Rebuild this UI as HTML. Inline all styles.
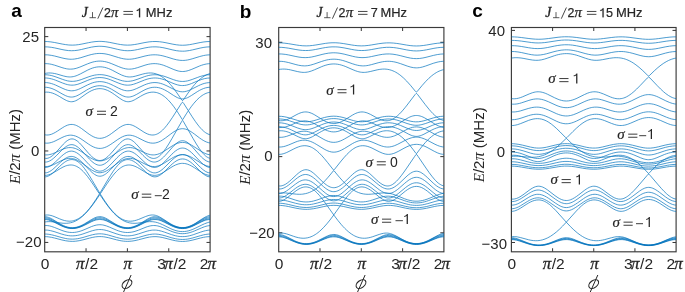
<!DOCTYPE html>
<html><head><meta charset="utf-8"><style>html,body{margin:0;padding:0;background:#fff;width:685px;height:292px;overflow:hidden}svg{display:block;will-change:transform}</style></head>
<body><svg width="685" height="292" viewBox="0 0 685 292">
<rect width="685" height="292" fill="#fff"/>
<rect x="44.70" y="27.50" width="165.40" height="224.30" fill="none" stroke="#3a3a3a" stroke-width="1.15"/>
<line x1="86.05" y1="251.80" x2="86.05" y2="248.20" stroke="#3a3a3a" stroke-width="1.03"/>
<line x1="86.05" y1="27.50" x2="86.05" y2="31.10" stroke="#3a3a3a" stroke-width="1.03"/>
<line x1="127.40" y1="251.80" x2="127.40" y2="248.20" stroke="#3a3a3a" stroke-width="1.03"/>
<line x1="127.40" y1="27.50" x2="127.40" y2="31.10" stroke="#3a3a3a" stroke-width="1.03"/>
<line x1="168.75" y1="251.80" x2="168.75" y2="248.20" stroke="#3a3a3a" stroke-width="1.03"/>
<line x1="168.75" y1="27.50" x2="168.75" y2="31.10" stroke="#3a3a3a" stroke-width="1.03"/>
<line x1="44.70" y1="36.60" x2="48.30" y2="36.60" stroke="#3a3a3a" stroke-width="1.03"/>
<line x1="210.10" y1="36.60" x2="206.50" y2="36.60" stroke="#3a3a3a" stroke-width="1.03"/>
<line x1="44.70" y1="150.95" x2="48.30" y2="150.95" stroke="#3a3a3a" stroke-width="1.03"/>
<line x1="210.10" y1="150.95" x2="206.50" y2="150.95" stroke="#3a3a3a" stroke-width="1.03"/>
<line x1="44.70" y1="242.43" x2="48.30" y2="242.43" stroke="#3a3a3a" stroke-width="1.03"/>
<line x1="210.10" y1="242.43" x2="206.50" y2="242.43" stroke="#3a3a3a" stroke-width="1.03"/>
<rect x="278.70" y="27.50" width="165.20" height="224.30" fill="none" stroke="#3a3a3a" stroke-width="1.15"/>
<line x1="320.00" y1="251.80" x2="320.00" y2="248.20" stroke="#3a3a3a" stroke-width="1.03"/>
<line x1="320.00" y1="27.50" x2="320.00" y2="31.10" stroke="#3a3a3a" stroke-width="1.03"/>
<line x1="361.30" y1="251.80" x2="361.30" y2="248.20" stroke="#3a3a3a" stroke-width="1.03"/>
<line x1="361.30" y1="27.50" x2="361.30" y2="31.10" stroke="#3a3a3a" stroke-width="1.03"/>
<line x1="402.60" y1="251.80" x2="402.60" y2="248.20" stroke="#3a3a3a" stroke-width="1.03"/>
<line x1="402.60" y1="27.50" x2="402.60" y2="31.10" stroke="#3a3a3a" stroke-width="1.03"/>
<line x1="278.70" y1="42.30" x2="282.30" y2="42.30" stroke="#3a3a3a" stroke-width="1.03"/>
<line x1="443.90" y1="42.30" x2="440.30" y2="42.30" stroke="#3a3a3a" stroke-width="1.03"/>
<line x1="278.70" y1="156.60" x2="282.30" y2="156.60" stroke="#3a3a3a" stroke-width="1.03"/>
<line x1="443.90" y1="156.60" x2="440.30" y2="156.60" stroke="#3a3a3a" stroke-width="1.03"/>
<line x1="278.70" y1="232.80" x2="282.30" y2="232.80" stroke="#3a3a3a" stroke-width="1.03"/>
<line x1="443.90" y1="232.80" x2="440.30" y2="232.80" stroke="#3a3a3a" stroke-width="1.03"/>
<rect x="511.40" y="27.50" width="164.70" height="224.30" fill="none" stroke="#3a3a3a" stroke-width="1.15"/>
<line x1="552.58" y1="251.80" x2="552.58" y2="248.20" stroke="#3a3a3a" stroke-width="1.03"/>
<line x1="552.58" y1="27.50" x2="552.58" y2="31.10" stroke="#3a3a3a" stroke-width="1.03"/>
<line x1="593.75" y1="251.80" x2="593.75" y2="248.20" stroke="#3a3a3a" stroke-width="1.03"/>
<line x1="593.75" y1="27.50" x2="593.75" y2="31.10" stroke="#3a3a3a" stroke-width="1.03"/>
<line x1="634.92" y1="251.80" x2="634.92" y2="248.20" stroke="#3a3a3a" stroke-width="1.03"/>
<line x1="634.92" y1="27.50" x2="634.92" y2="31.10" stroke="#3a3a3a" stroke-width="1.03"/>
<line x1="511.40" y1="30.40" x2="515.00" y2="30.40" stroke="#3a3a3a" stroke-width="1.03"/>
<line x1="676.10" y1="30.40" x2="672.50" y2="30.40" stroke="#3a3a3a" stroke-width="1.03"/>
<line x1="511.40" y1="151.60" x2="515.00" y2="151.60" stroke="#3a3a3a" stroke-width="1.03"/>
<line x1="676.10" y1="151.60" x2="672.50" y2="151.60" stroke="#3a3a3a" stroke-width="1.03"/>
<line x1="511.40" y1="242.50" x2="515.00" y2="242.50" stroke="#3a3a3a" stroke-width="1.03"/>
<line x1="676.10" y1="242.50" x2="672.50" y2="242.50" stroke="#3a3a3a" stroke-width="1.03"/>
<clipPath id="c0"><rect x="44.70" y="27.50" width="165.40" height="224.30"/></clipPath>
<path clip-path="url(#c0)" fill="none" stroke="#0072BD" stroke-width="0.7" stroke-linejoin="round" d="M44.70 236.62L46.42 236.67 48.15 236.81 51.59 237.35 54.69 238.06 61.93 239.97 65.72 240.77 69.17 241.23 72.27 241.36 73.99 241.32 75.71 241.19 79.16 240.70 82.95 239.87 89.50 238.12 92.25 237.46 95.35 236.89 98.11 236.62 99.83 236.57 101.56 236.62 103.28 236.76 105.00 237.00 108.79 237.78 116.37 239.78 119.82 240.57 121.89 240.93 123.61 241.15 125.68 241.32 127.40 241.36 129.12 241.32 131.19 241.16 132.91 240.94 134.98 240.58 138.43 239.80 146.01 237.81 149.45 237.10 151.18 236.85 152.90 236.69 156.00 236.64 159.10 236.91 162.20 237.46 164.96 238.11 172.20 240.03 175.64 240.78 179.09 241.27 180.81 241.40 182.53 241.44 185.63 241.30 189.08 240.84 192.87 240.03 200.45 238.02 203.55 237.32 205.28 237.01 207.00 236.79 210.10 236.62 M44.70 234.04L46.42 234.08 48.15 234.22 49.87 234.47 51.59 234.80 54.69 235.57 61.93 237.64 65.72 238.51 67.44 238.80 69.17 239.00 72.27 239.15 73.99 239.09 75.71 238.95 77.44 238.72 79.16 238.41 82.95 237.49 89.84 235.45 92.60 234.72 95.35 234.17 98.11 233.86 99.83 233.80 101.56 233.86 103.28 234.02 105.00 234.29 106.72 234.64 108.79 235.16 116.37 237.39 119.82 238.26 121.89 238.67 123.61 238.91 125.68 239.09 127.40 239.15 129.12 239.10 131.19 238.93 132.91 238.69 134.98 238.30 138.43 237.46 146.01 235.30 149.45 234.53 152.55 234.13 154.28 234.05 155.66 234.06 157.03 234.15 158.76 234.35 161.86 234.95 164.96 235.78 171.85 237.83 175.64 238.74 177.36 239.05 179.09 239.28 180.81 239.42 182.53 239.47 185.63 239.32 187.36 239.11 189.08 238.81 192.87 237.92 200.45 235.68 203.55 234.87 205.28 234.52 207.00 234.26 208.72 234.10 210.10 234.04 M44.70 230.08L46.08 230.08 47.46 230.17 48.84 230.34 50.56 230.65 54.00 231.56 61.24 233.95 64.69 234.92 66.75 235.36 68.48 235.63 70.54 235.83 72.27 235.87 73.99 235.81 75.71 235.64 77.44 235.38 79.16 235.01 80.88 234.57 82.95 233.94 89.84 231.52 92.60 230.65 95.70 229.91 97.08 229.70 98.45 229.57 99.83 229.52 101.56 229.59 103.28 229.79 105.00 230.12 106.72 230.55 108.45 231.06 116.03 233.71 119.82 234.84 121.89 235.31 123.61 235.60 125.68 235.81 127.40 235.87 129.12 235.83 131.19 235.63 132.91 235.36 134.98 234.92 138.43 233.95 146.01 231.46 147.73 230.98 149.45 230.58 151.18 230.29 152.55 230.14 153.93 230.08 155.31 230.10 156.69 230.20 158.41 230.45 161.51 231.18 164.27 232.05 171.51 234.62 175.30 235.71 177.36 236.15 179.09 236.41 180.81 236.57 182.53 236.62 184.26 236.57 185.98 236.41 187.70 236.15 189.42 235.79 191.15 235.35 193.22 234.73 200.80 232.05 203.90 231.08 205.62 230.66 207.00 230.39 208.72 230.17 210.10 230.08 M44.70 225.55L46.08 225.52 47.80 225.63 49.52 225.91 51.25 226.35 54.35 227.40 61.93 230.45 64.00 231.15 66.06 231.73 67.79 232.10 69.51 232.35 71.23 232.48 72.61 232.50 74.33 232.40 76.40 232.12 78.12 231.76 80.19 231.19 81.91 230.61 83.98 229.81 91.56 226.56 93.29 225.93 95.01 225.40 96.73 225.01 98.11 224.82 99.83 224.73 101.21 224.78 102.59 224.95 103.97 225.23 106.72 226.04 109.48 227.12 116.37 230.08 118.44 230.85 120.16 231.40 122.23 231.92 123.95 232.24 125.68 232.43 127.40 232.50 129.12 232.44 131.19 232.21 132.91 231.89 134.98 231.36 138.43 230.19 146.01 227.14 147.73 226.55 149.11 226.16 150.83 225.78 152.21 225.60 153.59 225.52 154.97 225.55 156.34 225.70 157.72 225.95 159.10 226.29 160.82 226.84 163.58 227.91 170.82 231.06 172.88 231.85 174.95 232.52 177.02 233.06 178.74 233.38 180.81 233.62 182.53 233.68 184.26 233.62 186.32 233.38 188.05 233.06 190.11 232.52 192.18 231.85 194.25 231.06 201.49 227.91 204.24 226.84 205.96 226.29 207.34 225.95 208.72 225.70 210.10 225.55 M44.70 222.03L46.77 221.73 48.84 221.62 50.90 221.68 53.31 221.90 54.35 222.35 60.90 225.64 62.96 226.55 65.03 227.31 67.10 227.91 69.17 228.32 71.23 228.53 73.30 228.53 75.02 228.37 77.09 227.99 78.81 227.53 80.88 226.82 84.33 225.32 91.56 221.68 93.29 220.93 95.01 220.30 96.73 219.84 98.11 219.60 99.49 219.50 100.87 219.54 102.25 219.71 103.62 220.00 105.00 220.42 106.38 220.93 109.14 222.18 116.03 225.64 118.10 226.55 119.82 227.20 121.89 227.82 123.61 228.21 125.68 228.48 127.40 228.56 129.12 228.48 131.19 228.21 132.91 227.82 134.98 227.20 136.70 226.55 138.77 225.64 145.32 222.35 146.35 221.90 149.45 221.64 152.21 221.68 153.93 221.86 155.66 222.17 157.38 222.62 159.45 223.33 162.55 224.67 170.82 228.72 172.88 229.59 174.95 230.33 177.02 230.92 178.74 231.28 180.81 231.54 182.53 231.60 184.60 231.51 186.67 231.22 188.74 230.74 190.80 230.10 192.87 229.31 194.94 228.40 201.83 225.00 204.59 223.75 207.34 222.73 208.72 222.34 210.10 222.03 M44.70 219.51L46.42 219.61 48.49 220.01 50.90 220.80 53.31 221.85 55.04 222.19 58.83 224.23 61.24 225.45 63.65 226.51 65.72 227.25 67.44 227.73 69.17 228.07 70.89 228.27 72.27 228.32 73.99 228.24 76.06 227.95 77.78 227.56 79.85 226.90 81.57 226.23 83.64 225.28 90.87 221.45 93.29 220.30 94.66 219.76 96.04 219.31 97.42 218.99 98.45 218.84 99.83 218.76 101.21 218.84 102.59 219.06 104.31 219.52 106.04 220.16 107.76 220.94 115.34 224.94 117.41 225.93 119.13 226.65 121.20 227.36 123.26 227.89 125.33 228.21 127.06 228.31 128.43 228.29 130.16 228.13 131.88 227.81 133.60 227.36 135.67 226.65 138.08 225.61 140.49 224.41 144.63 222.19 146.35 221.85 149.11 220.67 151.52 219.93 152.90 219.66 153.93 219.55 156.00 219.55 157.38 219.72 158.76 220.02 160.14 220.43 161.51 220.95 164.27 222.19 171.16 225.65 173.23 226.55 174.95 227.20 177.02 227.83 178.74 228.21 180.81 228.49 182.53 228.56 184.26 228.49 185.98 228.27 187.70 227.92 189.77 227.32 191.84 226.55 193.90 225.65 201.14 222.02 203.90 220.81 205.62 220.21 207.00 219.85 208.72 219.58 210.10 219.51 M44.70 218.81L46.08 218.88 47.46 219.09 48.84 219.44 50.21 219.91 52.28 220.79 54.69 222.00 55.04 222.14 56.42 222.35 56.76 222.47 59.52 224.05 61.58 225.14 63.65 226.09 65.72 226.87 67.44 227.38 69.17 227.73 70.89 227.94 72.27 227.99 73.99 227.91 76.06 227.61 78.12 227.09 80.19 226.37 82.26 225.47 84.33 224.42 90.87 220.66 93.29 219.40 94.66 218.80 96.04 218.30 97.42 217.94 98.45 217.78 99.83 217.69 101.21 217.78 102.59 218.02 104.31 218.53 105.69 219.09 107.41 219.92 114.99 224.24 117.06 225.30 118.79 226.09 120.85 226.87 122.92 227.46 124.99 227.83 127.06 227.99 128.43 227.96 130.16 227.79 131.88 227.46 133.60 226.98 135.67 226.23 137.74 225.31 140.15 224.05 142.91 222.47 143.25 222.35 144.63 222.14 144.97 222.00 147.39 220.79 149.45 219.91 151.18 219.34 152.55 219.03 154.28 218.83 155.66 218.83 157.03 218.98 158.41 219.28 159.79 219.69 161.17 220.22 163.93 221.51 171.16 225.32 173.23 226.26 174.95 226.93 177.02 227.58 178.74 227.98 180.81 228.26 182.53 228.34 184.26 228.26 185.98 228.04 187.70 227.67 189.77 227.05 191.84 226.26 193.90 225.32 201.14 221.51 204.24 220.08 205.96 219.47 207.34 219.11 208.72 218.89 210.10 218.81 M44.70 217.78L46.08 217.85 47.46 218.08 48.84 218.46 50.21 218.98 52.97 220.31 56.42 222.27 56.76 222.40 57.79 222.56 58.14 222.72 60.21 223.95 61.93 224.88 63.65 225.70 65.38 226.40 67.10 226.96 68.82 227.36 70.54 227.61 72.27 227.69 73.99 227.61 76.06 227.30 78.12 226.75 80.19 226.00 82.26 225.05 84.33 223.94 91.22 219.71 93.63 218.36 95.01 217.72 96.04 217.32 97.42 216.92 98.45 216.73 99.83 216.64 101.21 216.73 102.59 217.00 103.97 217.44 105.35 218.03 107.07 218.91 114.99 223.75 117.06 224.88 118.79 225.70 120.85 226.52 122.92 227.14 124.99 227.53 127.06 227.69 128.78 227.64 130.50 227.43 132.22 227.05 133.95 226.52 135.67 225.85 137.39 225.05 139.46 223.95 141.53 222.72 141.87 222.56 142.91 222.40 143.25 222.27 147.04 220.12 148.42 219.44 149.80 218.84 151.52 218.26 152.90 217.95 154.28 217.79 155.66 217.81 157.03 217.98 158.41 218.31 159.79 218.78 161.17 219.36 163.58 220.59 170.82 224.69 172.88 225.70 174.95 226.57 177.02 227.25 178.74 227.66 180.81 227.96 182.53 228.04 184.26 227.96 186.32 227.66 188.05 227.25 190.11 226.57 192.18 225.70 194.25 224.69 201.49 220.59 204.24 219.21 205.96 218.53 207.34 218.13 208.72 217.87 210.10 217.78 M44.70 216.71L45.73 216.75 47.11 216.97 48.49 217.36 49.87 217.90 51.25 218.56 52.63 219.32 57.79 222.51 58.14 222.62 60.90 223.01 62.96 223.22 65.03 223.31 66.75 223.28 68.82 223.08 70.54 222.77 72.27 222.32 73.99 221.71 75.71 220.94 77.09 220.21 78.47 219.37 79.85 218.42 81.23 217.37 82.60 216.22 83.98 214.96 85.71 213.25 88.81 209.79 91.91 205.91 95.35 201.18 99.49 195.12 99.83 194.77 100.18 195.12 105.35 202.64 108.79 207.25 110.52 209.38 112.24 211.38 113.96 213.25 115.68 214.96 117.41 216.51 119.13 217.91 120.85 219.14 122.58 220.21 124.30 221.11 126.02 221.84 127.74 222.42 129.47 222.85 130.85 223.08 132.22 223.24 134.98 223.31 137.74 223.13 141.53 222.62 141.87 222.51 147.39 219.12 148.76 218.38 150.14 217.75 151.52 217.24 152.90 216.90 154.28 216.72 155.66 216.74 156.69 216.87 158.07 217.20 159.45 217.69 160.82 218.31 163.24 219.63 170.47 224.05 172.88 225.32 174.95 226.22 177.36 227.04 179.43 227.50 181.84 227.75 183.91 227.71 185.63 227.50 187.36 227.13 189.08 226.61 190.80 225.94 192.53 225.15 194.59 224.05 201.83 219.63 204.59 218.15 205.96 217.56 207.34 217.10 208.72 216.81 210.10 216.71 M44.70 215.22L46.08 215.02 47.80 214.98 49.18 215.11 50.90 215.47 52.28 215.87 54.00 216.49 59.52 218.82 61.93 219.75 64.34 220.50 66.75 220.99 69.17 221.19 71.23 221.10 72.61 220.89 73.64 220.65 75.71 219.98 77.09 219.37 78.47 218.64 79.85 217.78 81.23 216.80 82.60 215.70 83.98 214.48 86.74 211.69 89.50 208.46 92.25 204.83 95.70 199.81 99.14 194.36 99.49 193.99 99.83 194.35 100.18 193.99 100.52 194.36 104.66 200.85 108.10 205.77 109.83 208.02 111.55 210.12 113.27 212.06 114.99 213.82 116.72 215.41 118.10 216.54 119.82 217.78 121.20 218.64 122.58 219.37 123.95 219.98 125.33 220.46 127.06 220.89 128.78 221.13 130.50 221.19 132.22 221.08 134.29 220.74 136.36 220.20 138.43 219.50 145.32 216.63 148.07 215.66 149.80 215.23 151.18 215.03 152.55 214.97 153.93 215.05 155.31 215.29 156.69 215.69 158.07 216.21 159.79 217.04 162.55 218.66 167.72 222.07 170.13 223.58 172.54 224.92 174.61 225.88 177.02 226.76 179.43 227.34 181.84 227.60 183.91 227.56 185.63 227.34 187.70 226.86 189.42 226.29 191.49 225.42 193.56 224.37 195.63 223.16 202.17 218.88 204.93 217.23 206.31 216.53 207.69 215.93 209.07 215.47 210.10 215.22 M44.70 176.87L45.73 176.80 46.77 176.60 47.80 176.25 48.84 175.77 50.56 174.72 52.63 173.18 55.04 171.81 60.21 168.62 62.96 167.10 65.38 166.03 66.75 165.57 67.79 165.31 69.85 165.00 71.23 164.98 72.27 165.06 73.30 165.23 74.33 165.50 75.71 165.99 76.75 166.47 78.12 167.24 79.50 168.18 80.54 168.99 81.91 170.20 83.29 171.55 84.67 173.03 87.43 176.37 90.19 180.09 93.63 185.11 99.14 193.49 99.49 193.79 99.83 193.24 100.18 193.79 100.52 193.49 106.72 184.08 110.17 179.13 113.27 175.07 114.99 173.03 116.37 171.55 117.75 170.20 119.13 168.99 120.51 167.93 121.89 167.03 123.26 166.30 124.30 165.85 125.68 165.40 127.06 165.11 128.78 164.97 129.81 165.00 130.85 165.11 132.91 165.57 134.98 166.31 137.39 167.45 139.80 168.82 144.63 171.81 147.04 173.18 149.11 174.72 150.83 175.77 151.87 176.25 152.90 176.60 153.93 176.80 154.97 176.87 156.00 176.78 157.03 176.55 158.07 176.18 159.45 175.49 160.48 174.84 161.51 174.09 163.58 172.34 170.13 168.03 173.23 166.15 175.64 164.94 178.05 164.04 180.12 163.55 181.50 163.39 182.53 163.35 184.60 163.50 185.98 163.76 187.70 164.26 189.42 164.94 191.15 165.78 194.25 167.59 201.49 172.34 203.55 174.09 204.59 174.84 205.62 175.49 207.00 176.18 208.03 176.55 209.07 176.78 210.10 176.87 M44.70 175.37L46.42 175.30 48.15 174.98 50.21 174.30 52.28 173.36 52.97 172.82 54.35 171.57 59.52 166.55 61.93 164.34 64.34 162.42 65.72 161.51 66.75 160.92 67.79 160.43 68.82 160.05 69.85 159.77 70.89 159.61 71.92 159.57 72.96 159.65 74.68 160.04 75.71 160.45 77.09 161.17 78.12 161.85 79.50 162.95 80.54 163.90 81.91 165.33 84.33 168.27 86.74 171.65 89.50 175.91 92.25 180.45 99.83 193.22 107.76 179.87 110.52 175.36 113.27 171.14 114.65 169.19 116.03 167.38 117.41 165.72 118.79 164.24 120.16 162.95 121.20 162.11 122.58 161.17 123.95 160.45 125.33 159.94 126.37 159.70 127.06 159.61 128.09 159.57 129.81 159.77 131.53 160.29 133.26 161.11 135.33 162.42 137.74 164.34 140.15 166.55 145.32 171.57 146.70 172.82 147.39 173.36 149.45 174.30 151.18 174.89 152.90 175.25 154.62 175.38 155.66 175.33 156.69 175.20 157.72 174.97 158.76 174.67 159.79 174.28 161.17 173.66 163.58 172.33 165.30 170.72 170.13 165.94 172.20 164.02 174.61 162.05 175.99 161.11 177.02 160.49 178.05 159.97 179.09 159.56 180.81 159.09 182.53 158.94 184.26 159.09 185.63 159.44 187.36 160.14 189.08 161.11 190.80 162.31 192.53 163.72 194.25 165.28 199.76 170.72 201.49 172.33 203.90 173.66 205.96 174.55 208.03 175.13 209.07 175.30 210.10 175.37 M44.70 172.89L46.08 172.82 46.77 172.69 47.80 172.39 49.52 171.61 51.25 170.52 52.63 169.48 54.00 168.31 60.55 162.17 63.31 159.83 65.03 159.19 66.75 158.72 68.48 158.43 70.20 158.34 71.58 158.42 72.61 158.57 73.64 158.80 75.02 159.22 76.06 159.61 77.44 160.25 79.85 161.61 81.91 162.98 84.67 165.00 90.19 170.69 91.91 172.30 93.29 173.45 94.66 174.44 96.04 175.24 97.42 175.82 98.45 176.09 99.83 176.22 101.21 176.09 102.59 175.70 104.31 174.87 105.35 174.21 106.38 173.45 108.45 171.68 110.52 169.66 114.99 165.00 118.44 162.51 121.20 160.80 122.58 160.08 123.95 159.47 125.33 158.99 126.37 158.71 127.74 158.46 128.78 158.37 130.50 158.37 132.57 158.65 134.64 159.19 136.36 159.83 139.12 162.17 145.66 168.31 147.39 169.75 148.76 170.76 150.49 171.79 152.21 172.50 153.24 172.76 153.93 172.86 154.97 172.89 155.66 172.84 157.03 172.54 158.76 171.84 160.14 171.05 161.86 169.80 163.24 168.64 164.96 167.04 170.13 161.86 172.20 159.89 174.26 158.12 175.99 156.86 177.71 155.84 179.43 155.11 180.47 154.84 182.53 154.69 184.60 154.84 185.63 155.11 187.36 155.84 189.08 156.86 190.80 158.12 192.87 159.89 194.94 161.86 200.45 167.37 202.17 168.94 203.55 170.07 205.28 171.26 207.00 172.16 208.03 172.54 208.72 172.72 210.10 172.89 M44.70 167.45L46.08 167.42 46.77 167.32 47.80 167.05 49.18 166.50 50.56 165.78 51.94 165.29 53.31 164.71 55.38 163.73 60.55 161.06 63.31 159.82 65.72 158.18 66.75 157.62 67.79 157.16 69.17 156.71 70.20 156.51 71.23 156.43 72.27 156.47 73.64 156.72 75.02 157.18 76.40 157.85 77.78 158.71 79.16 159.73 80.88 161.21 85.02 165.26 89.50 168.57 91.22 169.72 92.60 170.54 94.66 171.57 96.73 172.30 97.77 172.54 98.80 172.68 99.83 172.73 100.87 172.68 102.59 172.39 104.31 171.85 106.38 170.92 108.45 169.72 110.86 168.08 114.65 165.26 118.44 161.52 119.82 160.30 121.20 159.20 122.58 158.26 123.95 157.49 125.33 156.92 126.37 156.64 127.74 156.44 129.12 156.47 130.50 156.71 131.88 157.16 132.91 157.62 133.95 158.18 136.36 159.82 139.12 161.06 146.01 164.56 147.73 165.29 149.11 165.78 150.49 166.50 151.52 166.93 152.55 167.24 153.24 167.37 154.62 167.47 155.66 167.38 156.69 167.15 157.72 166.80 158.76 166.33 159.79 165.73 161.51 164.56 163.24 163.64 164.96 162.62 171.51 158.45 173.57 157.27 175.30 156.42 177.02 155.71 178.74 155.18 181.15 154.69 182.53 154.58 183.91 154.69 186.32 155.18 188.05 155.71 190.11 156.58 191.84 157.46 193.56 158.45 200.11 162.62 201.83 163.64 203.55 164.56 205.96 166.14 207.00 166.66 208.03 167.05 209.07 167.32 210.10 167.45 M44.70 166.53L46.08 166.57 47.46 166.47 49.18 166.16 50.56 165.76 52.28 164.58 54.00 163.19 55.73 161.64 61.58 156.11 63.31 154.65 64.69 153.62 66.41 152.53 68.13 151.73 69.85 151.25 71.23 151.11 71.92 151.13 72.96 151.26 74.68 151.77 76.40 152.60 78.12 153.73 79.85 155.12 81.91 157.04 83.98 159.16 89.15 164.68 90.87 166.38 92.25 167.62 93.98 168.97 95.35 169.85 97.08 170.66 98.45 171.04 99.49 171.16 100.18 171.16 100.87 171.09 101.90 170.88 102.59 170.66 103.62 170.22 105.35 169.21 107.07 167.91 109.14 166.05 111.20 163.96 117.06 157.73 118.79 156.05 120.51 154.54 122.58 153.02 124.30 152.06 126.02 151.42 127.06 151.21 127.74 151.13 128.43 151.11 129.47 151.19 131.19 151.61 132.91 152.35 134.64 153.38 136.36 154.65 138.08 156.11 143.94 161.64 145.66 163.19 147.39 164.58 149.11 165.76 150.83 166.24 152.55 166.51 154.28 166.57 155.66 166.46 157.03 166.22 158.76 165.73 160.48 165.05 161.51 164.52 162.89 163.37 164.61 161.76 171.85 154.23 173.57 152.58 175.30 151.11 177.36 149.66 179.09 148.78 180.12 148.41 180.81 148.23 181.84 148.08 182.53 148.05 183.22 148.08 184.26 148.23 184.95 148.41 185.98 148.78 187.70 149.66 189.77 151.11 191.49 152.58 193.22 154.23 200.45 161.76 202.17 163.37 203.55 164.52 204.93 165.20 206.65 165.84 208.38 166.29 210.10 166.53 M44.70 162.04L45.39 162.07 46.42 162.00 47.11 161.89 48.15 161.60 49.87 160.85 51.59 159.80 53.31 158.48 55.04 156.95 56.76 155.29 61.24 150.74 62.96 149.11 65.03 148.38 66.75 147.93 68.48 147.65 70.20 147.56 71.58 147.64 72.61 147.78 73.99 148.08 75.37 148.50 76.75 149.05 78.12 149.70 80.88 151.28 82.95 152.64 84.67 153.87 89.50 159.15 91.22 160.85 92.94 162.34 94.32 163.35 95.70 164.17 97.08 164.78 98.45 165.15 99.83 165.27 100.52 165.24 101.56 165.08 102.93 164.65 104.66 163.79 106.38 162.61 108.10 161.16 110.86 158.44 114.99 153.87 117.06 152.41 118.79 151.28 120.51 150.26 121.89 149.53 123.26 148.90 124.64 148.39 126.02 147.99 127.40 147.72 128.78 147.58 130.50 147.59 132.57 147.86 134.64 148.38 136.70 149.11 138.43 150.74 142.91 155.29 144.63 156.95 146.35 158.48 148.07 159.80 149.11 160.47 150.14 161.03 151.87 161.71 152.90 161.95 153.59 162.04 154.62 162.06 155.31 162.01 156.00 161.89 157.03 161.60 158.76 160.84 160.48 159.76 162.20 158.38 163.58 157.11 165.30 155.35 172.54 147.15 174.26 145.34 175.64 144.08 177.36 143.36 179.09 142.83 180.81 142.50 182.53 142.39 184.26 142.50 185.98 142.83 187.70 143.36 189.42 144.08 190.80 145.34 192.53 147.15 199.76 155.35 201.49 157.11 202.86 158.38 204.93 160.00 206.65 161.02 208.38 161.71 209.41 161.95 210.10 162.04 M44.70 158.31L45.73 158.43 47.11 158.35 48.15 158.11 49.52 157.56 50.90 156.78 52.63 155.51 54.00 154.30 56.07 152.27 60.55 150.15 62.96 149.10 65.38 147.10 66.75 146.17 67.79 145.61 68.82 145.16 69.85 144.85 70.89 144.68 71.92 144.65 72.96 144.77 74.33 145.15 75.71 145.77 77.09 146.61 78.47 147.65 80.19 149.17 81.91 150.88 84.67 153.84 89.15 156.94 90.87 158.02 92.25 158.79 94.66 159.91 96.04 160.38 97.08 160.64 98.45 160.87 99.49 160.94 100.52 160.92 101.90 160.77 103.62 160.38 105.35 159.77 107.41 158.79 109.48 157.60 111.55 156.25 114.99 153.84 117.75 150.88 119.47 149.17 121.20 147.65 122.58 146.61 123.95 145.77 125.33 145.15 126.71 144.77 128.09 144.65 128.78 144.68 129.81 144.85 130.85 145.16 131.88 145.61 132.91 146.17 134.29 147.10 136.70 149.10 139.12 150.15 143.60 152.27 145.66 154.30 147.04 155.51 148.42 156.55 149.80 157.39 151.18 158.00 152.21 158.29 153.59 158.44 154.62 158.37 155.31 158.23 156.34 157.90 157.38 157.41 158.41 156.76 159.45 155.97 160.82 154.71 162.20 153.23 163.58 151.55 171.85 146.16 173.57 145.14 175.64 144.04 177.02 142.90 178.05 142.18 179.43 141.42 180.47 141.02 181.50 140.77 182.53 140.69 183.57 140.77 184.60 141.02 185.63 141.42 187.01 142.18 188.05 142.90 189.42 144.04 191.49 145.14 193.22 146.16 201.49 151.55 202.86 153.23 204.24 154.71 205.62 155.97 206.65 156.76 207.69 157.41 208.38 157.75 209.41 158.14 210.10 158.31 M44.70 154.83L45.73 154.91 47.11 154.91 48.49 154.78 49.87 154.53 51.25 154.17 52.63 153.72 55.73 152.43 56.07 152.23 56.76 151.49 63.31 144.18 64.69 142.80 66.06 141.56 67.79 140.29 69.17 139.55 70.54 139.07 71.92 138.90 73.30 139.03 74.68 139.47 76.06 140.19 77.78 141.43 79.50 142.99 81.23 144.78 88.46 153.15 90.19 155.00 91.56 156.35 93.29 157.82 95.01 159.02 96.73 159.88 97.77 160.23 98.45 160.39 99.49 160.50 100.18 160.50 101.21 160.39 102.25 160.13 102.93 159.88 103.97 159.41 105.00 158.80 106.04 158.09 108.10 156.35 110.17 154.28 112.24 151.98 117.75 145.54 119.47 143.68 120.85 142.34 122.58 140.89 123.95 139.99 124.99 139.47 125.68 139.22 127.06 138.93 128.43 138.95 129.12 139.07 130.16 139.40 131.53 140.08 133.26 141.28 134.64 142.47 136.36 144.18 142.91 151.49 143.60 152.23 143.94 152.43 145.66 153.18 147.39 153.84 149.11 154.36 150.49 154.67 151.87 154.86 153.24 154.92 154.62 154.86 156.00 154.67 157.72 154.25 159.45 153.64 161.51 152.69 163.58 151.54 165.99 148.23 168.75 143.96 171.85 138.75 176.68 130.25 177.71 129.73 179.43 129.14 181.15 128.79 182.53 128.70 183.91 128.79 185.63 129.14 187.36 129.73 188.39 130.25 193.22 138.75 196.32 143.96 199.07 148.23 201.49 151.54 203.90 152.87 205.96 153.78 208.03 154.44 210.10 154.83 M44.70 143.01L46.42 143.16 48.15 143.11 49.87 142.85 51.59 142.40 53.31 141.79 55.04 141.05 61.93 137.57 64.69 136.37 66.41 135.79 67.79 135.46 69.17 135.24 70.54 135.17 71.92 135.23 73.64 135.52 75.37 136.01 77.09 136.71 78.81 137.59 80.88 138.82 82.95 140.20 88.46 144.06 90.19 145.17 91.91 146.16 93.63 147.01 95.35 147.67 97.08 148.14 98.80 148.39 100.52 148.41 101.56 148.32 102.59 148.14 104.31 147.67 106.38 146.85 108.10 145.97 110.17 144.74 112.24 143.36 117.75 139.50 120.85 137.59 122.58 136.71 124.30 136.01 126.02 135.52 127.74 135.23 129.12 135.17 130.85 135.28 132.57 135.61 134.29 136.12 135.67 136.64 137.39 137.41 142.91 140.22 144.97 141.21 147.04 142.05 148.76 142.60 150.49 142.97 152.21 143.15 153.93 143.13 155.31 142.95 157.03 142.54 158.76 141.93 160.48 141.13 162.20 140.16 165.30 138.10 170.82 133.95 172.88 132.46 174.95 131.13 176.68 130.20 181.50 121.81 182.19 120.67 182.53 120.30 182.88 120.67 183.57 121.81 188.39 130.20 190.11 131.13 192.18 132.46 194.25 133.95 199.76 138.10 201.49 139.29 203.21 140.37 204.93 141.30 206.65 142.07 208.38 142.64 210.10 143.01 M44.70 134.75L46.42 135.01 48.15 134.99 49.87 134.71 51.59 134.19 53.31 133.45 55.38 132.35 57.45 131.07 62.62 127.67 64.34 126.64 65.72 125.93 67.44 125.20 69.17 124.69 70.89 124.44 72.27 124.44 73.64 124.62 75.37 125.09 76.75 125.65 78.47 126.54 79.85 127.38 81.57 128.56 87.08 132.73 89.15 134.22 91.22 135.56 93.29 136.69 95.35 137.56 97.42 138.11 98.45 138.27 99.49 138.34 101.21 138.27 102.93 137.96 104.66 137.43 106.38 136.69 108.10 135.77 109.83 134.69 111.55 133.49 118.79 128.07 120.51 126.95 122.23 125.98 123.95 125.22 125.33 124.78 126.71 124.51 128.09 124.42 129.47 124.51 130.85 124.77 132.22 125.20 133.95 125.93 135.33 126.64 137.05 127.67 143.94 132.15 146.01 133.28 147.73 134.05 149.45 134.62 151.18 134.96 152.90 135.03 154.28 134.89 155.66 134.56 156.69 134.19 157.72 133.71 159.10 132.91 160.14 132.20 161.51 131.08 162.55 130.14 163.93 128.74 165.30 127.20 166.68 125.52 169.44 121.83 172.54 117.27 176.68 110.79 177.02 111.21 178.74 113.84 182.19 119.39 182.53 119.76 182.88 119.39 186.32 113.84 188.05 111.21 188.39 110.79 192.18 116.75 195.28 121.35 198.04 125.08 199.42 126.79 200.80 128.37 202.17 129.80 203.21 130.78 204.59 131.93 205.62 132.69 207.00 133.53 208.03 134.04 209.07 134.45 210.10 134.75 M44.70 92.26L46.42 92.12 48.49 92.21 50.56 92.57 52.63 93.16 54.69 93.98 57.11 95.17 59.17 96.33 64.00 99.21 66.41 100.47 67.79 101.04 69.17 101.45 70.54 101.69 71.58 101.74 72.96 101.61 74.33 101.28 75.71 100.76 77.09 100.07 78.47 99.26 79.85 98.35 85.02 94.63 87.08 93.21 89.15 91.93 91.22 90.82 92.94 90.05 94.66 89.44 96.39 89.00 98.11 88.73 100.18 88.64 101.21 88.70 102.59 88.87 103.62 89.07 105.00 89.44 107.41 90.34 109.83 91.54 112.24 92.99 114.65 94.63 119.82 98.35 122.23 99.88 123.61 100.60 124.99 101.17 126.37 101.55 127.74 101.72 128.78 101.72 130.16 101.53 131.53 101.16 132.91 100.62 134.29 99.96 135.67 99.21 140.49 96.33 142.91 94.99 144.97 93.98 147.04 93.16 149.11 92.57 151.18 92.21 153.24 92.12 154.97 92.26 156.34 92.51 157.72 92.89 159.10 93.40 160.14 93.87 161.51 94.60 162.89 95.47 164.27 96.47 165.65 97.59 167.03 98.84 168.41 100.20 171.16 103.28 173.92 106.79 176.68 110.69 177.02 110.24 181.50 103.21 182.19 102.36 182.53 102.20 182.88 102.36 183.57 103.21 188.05 110.24 188.39 110.69 191.15 106.79 193.90 103.28 196.66 100.20 198.04 98.84 199.42 97.59 200.80 96.47 202.17 95.47 203.55 94.60 204.93 93.87 205.96 93.40 207.34 92.89 208.72 92.51 210.10 92.26 M44.70 87.24L46.42 87.30 48.15 87.53 49.87 87.91 51.94 88.57 54.00 89.42 56.07 90.43 62.96 94.34 65.72 95.72 67.44 96.39 68.82 96.77 70.20 97.01 71.58 97.07 72.61 97.01 73.99 96.77 75.37 96.38 76.75 95.85 78.12 95.20 79.85 94.26 86.74 90.03 88.46 89.05 90.19 88.17 92.25 87.26 93.98 86.65 96.04 86.11 97.77 85.84 99.83 85.72 102.25 85.88 104.66 86.35 107.07 87.13 109.14 88.00 111.55 89.24 113.96 90.65 119.47 94.06 122.23 95.54 123.95 96.26 125.33 96.69 126.71 96.96 128.09 97.07 129.47 97.01 130.85 96.77 132.22 96.39 133.95 95.72 136.70 94.34 141.87 91.37 143.94 90.25 146.01 89.26 148.07 88.44 150.14 87.82 152.21 87.42 154.28 87.25 156.34 87.32 158.41 87.62 160.48 88.16 162.55 88.93 164.61 89.89 167.72 91.64 173.57 95.45 175.99 96.89 177.36 97.60 178.40 98.05 179.78 98.51 180.81 98.74 181.15 99.08 181.84 100.03 182.19 100.41 182.53 100.57 182.88 100.41 183.22 100.03 183.91 99.08 184.26 98.74 185.29 98.51 186.67 98.05 187.70 97.60 189.08 96.89 191.49 95.45 197.69 91.43 199.42 90.44 201.14 89.55 203.55 88.52 205.62 87.87 208.03 87.39 210.10 87.24 M44.70 82.57L46.42 82.62 48.15 82.82 49.87 83.15 51.59 83.60 53.66 84.30 55.73 85.14 62.96 88.52 65.72 89.65 67.44 90.20 68.82 90.52 70.20 90.72 71.58 90.80 72.96 90.75 74.33 90.57 75.71 90.26 77.09 89.85 78.47 89.33 80.19 88.59 87.43 84.97 90.87 83.46 92.60 82.84 94.32 82.34 96.04 81.96 97.77 81.72 99.83 81.62 101.90 81.72 103.97 82.02 106.38 82.62 108.45 83.33 110.86 84.33 113.27 85.48 118.79 88.26 121.54 89.47 123.26 90.07 124.64 90.43 126.37 90.72 127.74 90.80 129.12 90.76 130.85 90.52 132.22 90.20 133.95 89.65 136.70 88.52 144.28 84.99 146.70 84.05 148.76 83.41 150.83 82.93 152.90 82.65 154.97 82.57 157.03 82.70 158.76 82.96 160.48 83.36 162.20 83.88 163.93 84.52 167.03 85.91 174.61 89.75 177.02 93.02 180.81 98.58 181.15 98.80 182.53 98.90 183.91 98.80 184.26 98.58 188.05 93.02 190.46 89.75 198.38 85.74 200.45 84.81 202.17 84.12 204.24 83.45 206.31 82.96 208.38 82.66 210.10 82.57 M44.70 77.97L46.42 78.02 48.15 78.20 49.87 78.49 51.59 78.90 53.31 79.40 55.38 80.12 62.62 83.03 65.72 84.13 67.44 84.60 68.82 84.88 70.54 85.10 71.92 85.16 73.30 85.11 74.68 84.96 76.06 84.71 77.78 84.27 80.88 83.20 87.77 80.31 90.87 79.15 92.60 78.61 94.32 78.18 96.04 77.85 97.77 77.63 99.83 77.54 101.90 77.63 103.97 77.90 106.04 78.34 108.10 78.92 110.52 79.77 118.10 82.93 121.20 84.06 122.92 84.55 124.30 84.85 126.02 85.08 127.40 85.16 128.78 85.13 130.50 84.94 131.88 84.68 133.60 84.23 136.70 83.17 144.63 79.99 147.04 79.19 149.11 78.64 151.18 78.25 153.24 78.02 155.31 77.97 157.38 78.10 159.45 78.41 161.86 78.97 164.27 79.73 166.68 80.65 168.41 82.31 170.47 84.56 172.54 87.03 174.61 89.70 174.95 89.91 176.33 90.49 178.74 91.29 180.81 91.70 182.53 91.81 184.26 91.70 186.32 91.29 188.74 90.49 190.11 89.91 190.46 89.70 192.53 87.03 194.59 84.56 196.66 82.31 198.38 80.65 201.83 79.39 204.59 78.62 207.34 78.14 210.10 77.97 M44.70 74.73L46.08 74.77 47.80 74.91 49.52 75.17 51.25 75.53 52.97 75.97 55.04 76.62 62.62 79.40 65.72 80.40 67.44 80.83 69.17 81.14 70.89 81.33 72.27 81.37 73.64 81.32 75.02 81.17 76.40 80.94 78.12 80.55 81.23 79.59 88.12 77.01 91.22 75.99 92.94 75.52 94.66 75.14 96.39 74.86 97.77 74.71 99.83 74.63 101.90 74.71 103.97 74.96 106.04 75.35 108.10 75.89 110.17 76.53 117.75 79.34 120.85 80.36 122.58 80.80 124.30 81.12 126.02 81.32 127.40 81.37 128.78 81.33 130.50 81.14 132.22 80.83 133.95 80.40 137.05 79.40 144.63 76.62 146.70 75.97 148.76 75.45 150.83 75.05 152.90 74.81 154.97 74.73 157.03 74.82 158.76 75.01 159.10 75.12 159.79 75.48 161.51 76.49 163.24 77.69 164.96 79.06 166.68 80.60 171.85 82.84 174.95 84.07 177.71 84.93 180.12 85.41 181.50 85.54 182.53 85.57 184.60 85.45 186.67 85.10 189.08 84.43 191.49 83.55 198.38 80.60 200.45 78.77 202.17 77.44 204.24 76.07 205.96 75.12 206.31 75.01 207.69 74.85 210.10 74.73 M44.70 73.56L46.42 73.20 48.49 72.98 50.21 72.97 52.28 73.13 54.35 73.46 56.42 73.92 63.31 75.91 66.06 76.57 67.79 76.83 69.17 76.94 70.54 76.95 71.92 76.84 73.30 76.61 74.68 76.27 76.06 75.83 77.78 75.15 80.54 73.83 87.77 70.04 90.19 68.94 92.25 68.15 94.66 67.45 96.73 67.04 98.80 66.84 100.87 66.84 102.59 66.99 104.66 67.37 106.38 67.82 108.45 68.53 110.17 69.24 112.24 70.21 119.13 73.83 121.54 75.00 124.30 76.06 126.71 76.68 128.09 76.88 129.47 76.96 130.85 76.93 132.57 76.74 133.95 76.50 135.67 76.09 142.22 74.20 145.32 73.46 147.04 73.17 148.76 73.00 150.49 72.96 151.87 73.03 153.59 73.26 154.97 73.56 156.69 74.09 159.10 75.06 161.51 75.54 163.93 76.20 167.03 77.25 173.23 79.58 176.33 80.57 178.05 80.98 179.43 81.23 181.15 81.42 182.53 81.46 183.91 81.42 185.63 81.23 187.36 80.91 189.08 80.47 192.18 79.46 197.69 77.38 200.11 76.53 203.21 75.63 205.96 75.06 208.38 74.09 210.10 73.56 M44.70 63.63L46.08 63.63 47.80 63.74 49.52 63.96 51.25 64.28 54.69 65.19 61.93 67.60 64.69 68.39 66.41 68.76 67.79 68.98 69.17 69.11 70.54 69.14 71.92 69.08 73.64 68.88 75.02 68.61 76.75 68.16 79.85 67.09 87.43 63.91 90.87 62.64 92.94 62.03 94.66 61.62 96.39 61.33 98.11 61.15 100.18 61.09 102.25 61.21 104.31 61.49 106.72 62.03 108.79 62.64 111.20 63.50 118.79 66.68 121.89 67.83 123.61 68.35 125.33 68.75 127.06 69.02 128.43 69.13 129.81 69.14 131.53 69.02 132.91 68.82 134.64 68.47 137.74 67.60 144.97 65.19 147.04 64.61 148.76 64.21 150.49 63.91 152.21 63.71 153.93 63.62 155.66 63.66 157.38 63.81 159.45 64.15 161.17 64.55 163.24 65.17 166.68 66.47 173.92 69.58 177.02 70.66 178.40 71.03 179.78 71.30 181.15 71.46 182.53 71.52 183.91 71.46 185.63 71.24 187.01 70.94 188.74 70.45 191.84 69.30 199.42 66.05 201.49 65.29 203.21 64.74 204.93 64.30 206.65 63.96 208.38 63.73 210.10 63.63 M44.70 54.80L47.80 54.89 51.25 55.33 54.69 56.04 61.93 57.92 65.03 58.62 68.13 59.09 69.85 59.22 71.23 59.25 72.61 59.21 74.33 59.06 77.44 58.54 80.88 57.66 88.12 55.41 91.22 54.56 94.66 53.85 96.39 53.62 98.11 53.47 99.83 53.43 101.90 53.50 103.97 53.70 106.04 54.03 108.10 54.47 110.17 55.01 118.44 57.56 121.54 58.38 123.26 58.74 124.99 59.01 126.71 59.18 128.09 59.24 129.47 59.23 131.19 59.12 132.91 58.91 134.64 58.62 137.74 57.92 144.97 56.04 148.76 55.27 150.49 55.03 152.21 54.87 153.93 54.80 155.66 54.82 157.38 54.93 159.10 55.14 160.82 55.43 162.89 55.87 166.34 56.81 173.23 58.94 176.68 59.81 179.78 60.31 182.53 60.45 183.91 60.42 185.63 60.27 187.36 60.01 189.08 59.66 192.18 58.84 199.76 56.51 203.55 55.56 205.28 55.24 207.00 55.00 210.10 54.80 M44.70 46.83L47.80 46.93 51.25 47.31 54.69 47.92 61.93 49.52 65.03 50.12 68.48 50.58 71.58 50.73 74.68 50.60 78.12 50.16 81.57 49.46 88.46 47.79 91.56 47.12 95.01 46.57 98.11 46.31 99.83 46.27 101.90 46.33 103.97 46.49 106.04 46.76 110.17 47.55 117.75 49.38 120.85 50.03 124.30 50.54 126.02 50.67 127.74 50.73 130.85 50.61 134.29 50.18 137.39 49.59 144.97 47.92 148.76 47.26 150.83 47.01 152.55 46.88 156.00 46.85 159.45 47.11 162.89 47.65 165.99 48.31 172.88 49.97 176.33 50.66 179.43 51.06 182.53 51.20 184.26 51.16 185.98 51.03 189.42 50.54 192.53 49.89 200.11 48.08 203.90 47.35 207.00 46.97 210.10 46.83 M44.70 41.50L47.80 41.60 50.90 41.91 54.69 42.52 62.27 44.05 65.38 44.59 68.82 45.00 72.27 45.13 75.37 45.00 78.47 44.65 81.91 44.05 88.46 42.69 91.56 42.11 95.01 41.63 98.11 41.40 99.83 41.37 101.90 41.41 105.69 41.75 109.83 42.41 117.41 43.98 120.51 44.54 123.95 44.97 127.40 45.13 130.85 45.00 134.29 44.59 137.39 44.05 144.97 42.52 149.11 41.87 152.55 41.56 156.00 41.51 159.45 41.73 162.89 42.19 165.99 42.76 172.88 44.19 176.33 44.78 179.43 45.13 182.53 45.25 185.98 45.10 189.42 44.68 192.53 44.12 200.11 42.56 203.90 41.93 207.00 41.61 210.10 41.50"/>
<clipPath id="c1"><rect x="278.70" y="27.50" width="165.20" height="224.30"/></clipPath>
<path clip-path="url(#c1)" fill="none" stroke="#0072BD" stroke-width="0.7" stroke-linejoin="round" d="M278.70 236.85L279.73 236.88 281.11 237.02 282.49 237.27 283.86 237.61 286.96 238.66 294.19 241.69 297.63 242.94 299.69 243.53 301.41 243.92 303.14 244.19 304.86 244.35 306.92 244.38 308.99 244.23 311.05 243.92 313.12 243.44 315.18 242.83 317.25 242.09 324.82 238.93 327.57 237.92 329.29 237.42 330.67 237.13 332.39 236.90 333.77 236.84 335.14 236.90 336.86 237.13 338.24 237.42 339.96 237.92 342.71 238.93 350.29 242.09 352.70 242.94 354.76 243.53 357.17 244.04 359.24 244.30 361.30 244.39 363.37 244.30 365.09 244.10 366.81 243.78 368.53 243.35 370.25 242.83 373.69 241.55 380.23 238.80 383.33 237.71 384.70 237.35 386.08 237.08 387.46 236.91 388.83 236.85 390.21 236.91 391.93 237.14 393.31 237.44 395.03 237.93 397.78 238.94 405.01 241.97 407.07 242.72 409.14 243.36 411.20 243.85 412.92 244.15 414.65 244.33 416.37 244.39 418.09 244.33 419.81 244.15 421.53 243.85 423.59 243.36 425.66 242.72 427.72 241.97 434.95 238.94 437.70 237.93 439.43 237.44 440.80 237.14 442.52 236.91 443.90 236.85 M278.70 236.27L279.73 236.30 281.11 236.45 282.49 236.71 283.86 237.08 285.24 237.53 286.96 238.19 294.19 241.38 297.63 242.69 299.69 243.30 301.41 243.70 303.14 243.99 304.86 244.15 306.92 244.18 308.99 244.03 311.05 243.70 313.12 243.21 315.18 242.57 317.25 241.80 324.82 238.47 327.92 237.28 329.64 236.77 331.01 236.47 332.39 236.29 333.77 236.23 335.14 236.29 336.52 236.47 337.90 236.77 339.27 237.16 342.03 238.18 348.91 241.23 352.01 242.45 353.73 243.01 355.45 243.48 357.17 243.83 358.89 244.07 361.30 244.19 363.37 244.10 365.43 243.83 367.84 243.30 369.90 242.69 372.31 241.80 379.88 238.48 382.98 237.29 384.70 236.79 386.08 236.50 387.46 236.33 388.83 236.27 390.21 236.34 391.59 236.52 392.96 236.82 394.68 237.33 397.78 238.52 405.01 241.69 407.07 242.47 409.14 243.14 411.20 243.65 412.92 243.96 414.65 244.14 416.37 244.20 418.09 244.14 419.81 243.96 421.53 243.65 423.59 243.14 425.66 242.47 427.72 241.69 434.95 238.52 438.05 237.33 439.77 236.82 441.15 236.52 442.52 236.34 443.90 236.27 M278.70 235.41L280.08 235.47 281.45 235.66 282.83 235.98 284.55 236.53 287.30 237.67 294.88 241.25 296.94 242.08 299.01 242.78 301.07 243.33 302.79 243.65 304.51 243.85 306.23 243.92 307.95 243.85 310.02 243.60 312.08 243.17 314.15 242.57 316.21 241.82 318.28 240.94 324.82 237.81 327.23 236.76 328.60 236.26 329.98 235.85 331.36 235.55 332.39 235.41 333.77 235.34 335.14 235.41 336.52 235.61 338.24 236.04 339.62 236.50 341.34 237.19 349.25 240.94 351.32 241.82 353.04 242.45 355.11 243.08 357.17 243.54 359.24 243.82 361.30 243.92 363.02 243.85 364.74 243.65 366.46 243.33 368.53 242.78 370.59 242.08 372.66 241.25 380.23 237.67 383.33 236.41 385.05 235.89 386.42 235.60 388.14 235.42 389.52 235.43 390.90 235.58 392.27 235.85 393.65 236.24 395.03 236.73 397.44 237.75 404.66 241.17 406.73 242.01 408.79 242.73 410.86 243.30 412.58 243.64 414.65 243.89 416.37 243.95 418.09 243.89 420.15 243.64 421.87 243.30 423.94 242.73 426.00 242.01 428.07 241.17 435.30 237.75 438.05 236.60 439.77 236.04 441.15 235.70 442.52 235.49 443.90 235.41 M278.70 234.52L280.08 234.58 281.45 234.80 282.83 235.16 284.21 235.64 286.96 236.86 294.53 240.71 296.60 241.61 298.66 242.37 300.73 242.97 302.45 243.34 304.51 243.60 306.23 243.67 307.95 243.60 310.02 243.34 312.08 242.89 314.15 242.26 316.21 241.47 318.28 240.55 325.16 237.02 327.57 235.90 329.98 235.03 331.36 234.69 332.39 234.54 333.77 234.46 335.14 234.54 336.52 234.76 337.90 235.13 339.27 235.62 340.99 236.35 348.91 240.38 350.97 241.32 352.70 242.01 355.11 242.79 357.17 243.27 359.24 243.57 361.30 243.67 363.02 243.60 364.74 243.39 366.46 243.06 368.53 242.49 370.59 241.75 373.00 240.71 380.57 236.86 383.33 235.64 385.05 235.06 386.42 234.73 388.14 234.53 389.52 234.54 390.55 234.65 391.93 234.93 393.31 235.34 394.68 235.86 397.09 236.96 404.32 240.64 406.39 241.55 408.45 242.33 410.52 242.95 412.58 243.40 414.65 243.66 416.37 243.73 418.09 243.66 420.15 243.40 421.87 243.04 423.94 242.44 426.00 241.69 428.41 240.64 435.64 236.96 438.39 235.72 439.77 235.22 441.15 234.85 442.52 234.61 443.90 234.52 M278.70 233.28L280.08 233.11 281.80 233.08 283.17 233.19 284.89 233.48 286.27 233.82 287.99 234.34 293.50 236.28 295.91 237.05 298.32 237.67 300.73 238.09 303.14 238.25 305.20 238.17 307.61 237.80 309.68 237.24 311.05 236.74 312.43 236.13 313.81 235.41 315.18 234.60 316.56 233.68 317.94 232.66 319.31 231.55 321.03 230.02 323.79 227.28 326.88 223.82 329.98 220.00 333.77 214.97 337.90 220.44 341.34 224.62 343.06 226.55 344.78 228.35 346.50 230.02 348.22 231.55 349.94 232.93 351.66 234.15 353.38 235.22 354.76 235.96 356.14 236.59 357.86 237.24 359.24 237.64 360.96 238.00 362.68 238.20 364.40 238.25 366.12 238.16 368.18 237.88 370.25 237.43 372.31 236.84 379.20 234.45 381.95 233.64 383.67 233.29 385.05 233.12 386.42 233.07 387.80 233.14 389.18 233.34 390.55 233.67 391.93 234.11 393.65 234.80 396.40 236.14 401.57 238.98 403.98 240.24 406.39 241.35 408.45 242.16 410.86 242.89 413.27 243.37 415.68 243.59 417.74 243.55 419.46 243.37 421.53 242.98 423.25 242.50 425.31 241.78 427.38 240.90 429.44 239.89 435.98 236.33 438.74 234.95 440.11 234.37 441.49 233.87 442.87 233.49 443.90 233.28 M278.70 205.39L280.42 205.42 282.14 205.54 285.58 205.99 288.68 206.59 295.91 208.17 299.69 208.84 302.79 209.19 305.89 209.33 307.61 209.31 309.68 209.19 313.46 208.73 316.56 208.16 323.79 206.56 327.23 205.90 327.57 206.25 333.77 214.95 339.96 206.25 340.31 205.90 343.75 206.56 350.97 208.16 354.07 208.73 357.86 209.19 359.92 209.31 361.64 209.33 365.09 209.17 368.87 208.68 372.31 208.03 379.88 206.37 383.67 205.74 387.11 205.42 388.83 205.39 390.55 205.43 393.31 205.67 396.40 206.14 399.16 206.70 405.70 208.16 409.48 208.85 413.27 209.28 416.71 209.40 419.81 209.26 422.91 208.90 426.69 208.23 434.26 206.55 437.36 205.96 440.80 205.53 443.90 205.39 M278.70 203.24L280.42 203.27 282.14 203.39 285.58 203.87 288.68 204.51 295.91 206.24 299.69 206.96 303.14 207.37 306.23 207.49 307.95 207.45 310.02 207.29 313.81 206.75 317.25 206.03 325.85 203.95 326.19 204.31 327.23 205.77 327.57 205.85 330.67 205.47 333.77 205.34 336.86 205.47 339.96 205.85 340.31 205.77 341.34 204.31 341.68 203.95 350.63 206.11 354.76 206.93 357.17 207.26 359.24 207.43 361.30 207.49 363.37 207.44 366.46 207.16 369.56 206.66 372.66 206.00 379.54 204.36 382.98 203.70 386.42 203.31 389.52 203.25 392.62 203.49 395.72 203.99 398.81 204.68 405.70 206.39 409.48 207.15 412.92 207.60 416.37 207.76 419.46 207.63 422.91 207.21 426.69 206.47 434.26 204.60 437.36 203.93 440.80 203.42 443.90 203.24 M278.70 201.33L279.73 201.28 280.76 201.11 281.80 200.82 283.17 200.26 283.52 200.24 285.24 200.54 287.30 201.00 295.56 203.25 299.01 204.04 301.07 204.39 302.79 204.60 304.51 204.72 306.23 204.76 307.95 204.71 309.68 204.57 311.40 204.35 313.46 203.98 317.25 203.06 323.79 201.14 324.13 201.46 325.85 203.83 326.19 203.87 328.26 203.50 330.32 203.22 332.05 203.08 333.77 203.04 335.49 203.08 337.55 203.26 339.27 203.50 341.34 203.87 341.68 203.83 343.40 201.46 343.75 201.14 350.29 203.06 354.07 203.98 356.14 204.35 357.86 204.57 359.92 204.73 361.64 204.76 363.37 204.70 365.09 204.56 366.81 204.34 368.87 203.97 372.31 203.16 380.23 201.00 382.29 200.54 384.01 200.24 384.36 200.26 385.74 200.82 386.77 201.11 388.49 201.33 389.52 201.30 390.55 201.14 391.59 200.88 392.96 200.36 394.68 200.70 396.75 201.20 405.01 203.62 408.45 204.48 410.52 204.88 412.58 205.17 414.65 205.34 416.37 205.39 418.09 205.34 420.15 205.17 422.22 204.88 424.28 204.48 427.72 203.62 435.98 201.20 438.05 200.70 439.77 200.36 440.80 200.76 441.83 201.07 442.87 201.26 443.90 201.33 M278.70 199.94L280.76 199.97 283.17 200.20 283.52 200.10 284.89 199.34 287.65 197.49 295.22 200.03 299.01 201.08 301.07 201.50 303.14 201.79 305.20 201.94 306.92 201.94 308.30 201.87 310.02 201.69 311.74 201.41 313.46 201.03 316.90 200.05 321.72 198.34 323.79 201.00 324.13 201.04 326.88 200.33 329.29 199.85 329.64 199.83 331.01 200.36 332.05 200.62 333.08 200.77 333.77 200.79 334.80 200.73 335.83 200.55 336.86 200.24 337.90 199.83 338.58 199.91 340.31 200.25 343.40 201.04 343.75 201.00 345.81 198.34 350.97 200.16 353.04 200.77 354.76 201.19 356.83 201.59 358.55 201.81 360.27 201.93 361.99 201.95 363.71 201.86 365.43 201.67 367.15 201.38 369.22 200.92 372.66 199.92 379.88 197.49 382.64 199.34 384.01 200.10 384.36 200.20 386.42 199.99 388.49 199.93 390.55 200.04 392.96 200.35 394.68 199.44 396.75 198.07 397.09 198.01 404.32 200.63 406.39 201.30 408.45 201.88 410.52 202.35 412.58 202.69 414.65 202.88 416.37 202.94 418.09 202.88 420.15 202.69 422.22 202.35 424.28 201.88 426.35 201.30 428.41 200.63 435.64 198.01 435.98 198.07 438.05 199.44 439.77 200.35 441.83 200.07 443.90 199.94 M278.70 198.02L280.08 197.96 281.45 197.70 282.83 197.24 284.21 196.62 287.65 197.45 292.12 193.85 292.47 193.76 296.60 194.20 299.69 194.30 301.41 194.24 302.79 194.11 305.54 193.64 307.61 193.07 309.68 192.32 311.74 191.37 313.81 190.23 314.15 190.25 314.84 190.81 315.87 191.72 317.25 193.07 319.31 195.33 321.72 198.28 322.06 198.22 325.16 197.12 325.51 197.27 327.92 198.92 328.95 199.49 329.64 199.79 331.70 199.55 333.77 199.47 335.83 199.55 337.90 199.79 338.58 199.49 339.62 198.92 342.03 197.27 342.37 197.12 345.47 198.22 345.81 198.28 348.22 195.33 350.29 193.07 351.66 191.72 352.70 190.81 353.38 190.25 353.73 190.23 356.14 191.54 358.55 192.59 360.96 193.38 363.37 193.91 365.77 194.21 368.18 194.30 371.28 194.17 375.07 193.76 375.41 193.85 379.88 197.45 383.33 196.62 384.70 197.24 386.08 197.70 387.46 197.96 388.83 198.02 389.87 197.93 390.90 197.73 391.93 197.41 393.31 196.87 396.75 197.89 397.09 197.82 398.81 196.49 399.16 196.56 404.66 198.80 407.76 199.85 410.86 200.64 412.58 200.93 413.96 201.10 416.02 201.20 418.09 201.15 420.15 200.93 422.56 200.49 424.63 199.96 427.04 199.18 429.79 198.13 433.57 196.56 433.92 196.49 435.64 197.82 435.98 197.89 439.43 196.87 440.80 197.41 441.83 197.73 442.87 197.93 443.90 198.02 M278.70 196.17L280.08 196.14 281.45 196.20 282.83 196.36 284.21 196.60 286.27 195.40 289.02 193.43 289.37 193.36 292.12 193.72 292.47 193.57 294.88 191.66 296.94 190.18 299.01 188.90 300.73 188.05 302.10 187.53 303.48 187.16 304.86 186.96 305.89 186.92 306.92 186.99 307.95 187.15 309.68 187.65 310.71 188.09 311.74 188.63 313.81 189.99 314.15 190.01 315.53 189.12 315.87 189.09 317.94 190.82 323.10 195.33 325.16 197.01 325.51 197.00 327.92 196.29 329.98 195.83 332.05 196.42 333.77 196.58 335.49 196.42 337.55 195.83 339.62 196.29 342.03 197.00 342.37 197.01 344.44 195.33 349.60 190.82 351.66 189.09 352.01 189.12 353.38 190.01 353.73 189.99 355.79 188.63 356.83 188.09 357.86 187.65 358.89 187.32 359.92 187.09 360.96 186.95 361.99 186.92 363.02 186.99 364.40 187.24 365.77 187.64 367.15 188.20 368.87 189.10 370.59 190.18 372.66 191.66 375.07 193.57 375.41 193.72 378.16 193.36 378.51 193.43 381.26 195.40 383.33 196.60 385.74 196.23 388.14 196.14 390.55 196.33 393.31 196.84 396.06 195.29 398.81 196.41 399.16 196.21 405.35 191.15 407.42 189.66 409.14 188.58 411.20 187.54 412.92 186.91 414.65 186.53 416.37 186.40 418.09 186.53 419.81 186.91 421.53 187.54 423.59 188.58 425.31 189.66 427.38 191.15 433.57 196.21 433.92 196.41 436.67 195.29 439.43 196.84 441.83 196.38 443.90 196.17 M278.70 193.49L279.73 193.49 280.76 193.38 282.83 192.89 285.58 192.98 289.02 193.32 289.37 193.16 293.50 189.88 295.56 188.32 297.28 187.14 299.01 186.12 300.73 185.30 302.45 184.71 304.17 184.37 305.89 184.32 306.92 184.42 307.95 184.63 308.99 184.93 310.36 185.49 311.40 186.01 312.77 186.83 314.15 187.78 315.53 188.82 315.87 188.88 318.28 187.06 318.62 187.19 322.75 190.88 325.51 193.13 326.88 194.11 327.92 194.76 328.95 195.32 329.98 195.79 332.05 195.55 333.77 195.48 335.49 195.55 337.55 195.79 338.58 195.32 339.62 194.76 340.65 194.11 342.03 193.13 344.78 190.88 348.91 187.19 349.25 187.06 351.66 188.88 352.01 188.82 353.38 187.78 354.76 186.83 356.14 186.01 357.51 185.34 358.89 184.82 359.92 184.55 361.30 184.34 362.33 184.31 363.71 184.42 365.43 184.80 367.15 185.44 368.87 186.31 370.25 187.14 371.97 188.32 374.03 189.88 378.16 193.16 378.51 193.32 381.95 192.98 384.70 192.89 386.42 193.31 387.46 193.46 388.49 193.50 389.87 193.42 392.27 194.00 395.72 195.16 396.06 195.21 398.81 193.15 405.35 187.72 407.07 186.43 408.79 185.27 410.86 184.13 412.58 183.42 413.61 183.12 414.65 182.90 416.37 182.77 418.09 182.90 419.12 183.12 420.15 183.42 421.87 184.13 423.94 185.27 425.66 186.43 427.38 187.72 433.92 193.15 436.67 195.21 437.02 195.16 439.77 194.21 441.83 193.64 442.87 193.42 443.90 193.49 M278.70 193.23L280.42 193.01 282.49 192.90 282.83 192.83 283.86 192.41 284.89 191.90 286.62 190.88 288.34 189.69 295.22 184.30 297.97 182.38 299.69 181.40 301.07 180.76 302.45 180.29 303.82 179.99 305.54 179.88 306.92 180.01 308.64 180.42 310.36 181.12 312.08 182.06 313.81 183.22 315.87 184.82 318.28 186.89 318.62 186.78 321.03 184.68 321.38 184.74 323.44 186.58 325.16 187.99 326.88 189.23 328.26 190.07 329.64 190.76 331.01 191.26 332.39 191.57 333.77 191.67 335.14 191.57 336.52 191.26 337.90 190.76 339.27 190.07 340.65 189.23 342.37 187.99 344.09 186.58 346.16 184.74 346.50 184.68 348.91 186.78 349.25 186.89 351.66 184.82 353.38 183.47 355.11 182.28 356.48 181.47 358.20 180.67 359.58 180.22 360.96 179.96 362.33 179.88 363.71 179.99 365.43 180.39 367.15 181.06 368.87 181.96 370.25 182.83 371.97 184.04 377.82 188.65 379.54 189.94 381.61 191.31 383.33 192.25 384.70 192.83 385.05 192.90 387.11 193.01 389.87 193.38 391.24 193.06 392.96 192.40 394.34 191.68 396.06 190.58 397.44 189.57 399.16 188.17 404.32 183.64 406.39 181.91 408.11 180.59 409.83 179.44 411.55 178.50 413.27 177.82 414.99 177.42 416.37 177.32 417.74 177.42 419.46 177.82 420.84 178.34 422.56 179.23 424.28 180.34 426.00 181.63 428.07 183.35 433.92 188.46 435.64 189.83 437.36 191.04 439.43 192.23 441.15 192.95 442.87 193.38 443.90 193.23 M278.70 188.98L280.08 188.98 281.80 188.71 283.17 188.28 284.89 187.49 286.62 186.48 288.68 185.01 290.75 183.36 295.91 179.01 297.63 177.69 299.01 176.75 300.73 175.77 302.45 175.04 304.17 174.60 305.54 174.49 306.92 174.60 308.64 175.03 310.36 175.76 312.08 176.76 313.81 177.99 315.53 179.39 321.03 184.42 321.38 184.36 323.10 182.70 323.44 182.52 324.82 183.69 326.19 184.76 327.57 185.69 328.95 186.46 330.32 187.06 331.36 187.39 332.73 187.65 333.77 187.71 334.80 187.65 336.18 187.39 337.21 187.06 338.58 186.46 339.96 185.69 341.34 184.76 342.71 183.69 344.09 182.52 344.44 182.70 346.16 184.36 346.50 184.42 350.29 180.91 352.70 178.81 354.76 177.23 356.48 176.13 358.20 175.28 359.92 174.73 361.64 174.50 362.33 174.50 363.37 174.60 364.74 174.92 366.12 175.44 367.50 176.13 368.87 176.98 371.62 179.01 376.79 183.36 378.85 185.01 380.57 186.25 382.29 187.31 383.33 187.84 384.36 188.28 386.08 188.79 387.80 189.00 389.52 188.91 391.24 188.51 392.96 187.82 394.68 186.87 396.40 185.68 398.13 184.31 399.85 182.79 407.07 175.96 408.79 174.51 410.52 173.26 412.24 172.26 413.61 171.68 414.99 171.32 416.37 171.20 417.74 171.32 419.12 171.68 420.50 172.26 421.87 173.04 423.59 174.25 425.31 175.66 427.38 177.53 433.23 183.10 434.95 184.60 436.67 185.94 438.74 187.28 440.46 188.13 442.18 188.71 443.90 188.98 M278.70 185.88L279.39 185.96 280.42 185.97 281.11 185.91 282.14 185.71 283.86 185.11 285.58 184.21 287.30 183.05 289.37 181.40 291.43 179.56 296.60 174.71 298.32 173.23 299.69 172.17 301.41 171.06 302.79 170.38 303.82 170.02 304.51 169.85 305.89 169.71 307.27 169.82 307.95 169.97 308.99 170.31 310.36 170.96 312.08 172.06 313.46 173.11 315.18 174.60 322.06 181.26 323.10 182.21 323.44 182.35 325.51 180.18 327.57 177.87 329.98 175.04 333.42 170.82 333.77 170.52 334.11 170.82 337.55 175.04 339.96 177.87 342.03 180.18 344.09 182.35 344.44 182.21 345.47 181.26 350.63 176.22 352.70 174.29 354.42 172.84 356.14 171.59 357.86 170.61 358.89 170.18 359.58 169.97 360.61 169.77 361.30 169.71 361.99 169.72 363.02 169.85 364.05 170.12 365.43 170.69 366.81 171.47 368.18 172.42 369.56 173.51 370.94 174.71 376.10 179.56 378.16 181.40 380.23 183.05 381.95 184.21 382.98 184.78 384.01 185.25 385.74 185.79 386.77 185.95 387.80 185.98 388.83 185.88 389.52 185.73 390.55 185.41 391.59 184.96 392.62 184.38 394.00 183.43 395.03 182.58 396.40 181.31 397.78 179.87 399.16 178.31 401.57 175.29 403.98 172.02 406.73 168.08 414.65 156.45 416.02 154.52 416.37 154.21 416.71 154.52 418.09 156.45 426.00 168.08 429.10 172.50 431.85 176.18 434.26 179.11 435.64 180.61 437.02 181.97 438.39 183.16 439.43 183.93 440.80 184.78 441.83 185.27 442.87 185.64 443.90 185.88 M278.70 154.37L280.08 154.33 281.80 154.11 283.17 153.79 284.89 153.23 286.27 152.69 287.99 151.90 293.84 148.91 295.91 147.92 298.32 146.94 300.38 146.29 301.76 145.98 302.79 145.82 304.86 145.70 306.92 145.87 308.99 146.33 310.02 146.67 311.40 147.25 312.43 147.78 313.81 148.59 316.21 150.32 317.59 151.48 318.97 152.75 321.38 155.19 324.13 158.29 327.57 162.48 333.08 169.46 333.42 169.88 333.77 170.17 334.11 169.88 334.45 169.46 340.31 162.05 343.75 157.89 346.84 154.47 349.60 151.79 350.97 150.60 352.35 149.54 353.73 148.59 355.11 147.78 356.48 147.10 357.86 146.55 359.24 146.14 360.61 145.87 362.33 145.71 364.05 145.75 365.77 145.98 367.84 146.48 369.90 147.20 371.97 148.08 379.20 151.74 382.29 153.10 384.01 153.69 385.39 154.04 387.11 154.30 388.49 154.37 389.87 154.30 391.59 154.03 393.31 153.57 395.03 152.94 398.13 151.48 403.98 148.25 406.04 147.18 408.11 146.22 409.83 145.55 410.17 145.79 411.20 147.07 413.27 149.74 416.02 153.46 416.37 153.76 416.71 153.46 419.46 149.74 421.53 147.07 422.56 145.79 422.91 145.55 424.97 146.37 427.04 147.35 434.26 151.30 437.36 152.80 439.08 153.46 440.80 153.96 442.52 154.27 443.90 154.37 M278.70 147.01L280.08 147.04 281.80 146.91 283.52 146.62 285.24 146.18 288.34 145.09 295.91 141.90 297.63 141.29 299.35 140.80 301.07 140.44 302.45 140.26 304.17 140.18 305.54 140.25 307.27 140.49 308.99 140.91 310.71 141.49 312.77 142.39 314.49 143.27 316.21 144.25 324.13 149.09 326.19 150.18 327.92 150.94 329.64 151.54 331.36 151.95 333.08 152.15 334.80 152.12 336.18 151.95 337.90 151.54 339.62 150.94 341.34 150.18 344.44 148.50 352.35 143.65 354.42 142.56 356.14 141.77 358.20 141.01 359.92 140.56 361.64 140.28 363.37 140.18 364.74 140.23 366.12 140.38 367.50 140.64 368.87 140.98 371.97 142.03 378.85 144.95 381.61 145.97 383.33 146.46 384.70 146.76 386.42 146.98 387.80 147.04 389.52 146.95 391.24 146.67 392.96 146.23 394.68 145.64 397.78 144.26 405.01 140.44 405.35 140.39 407.42 142.58 409.83 145.37 410.17 145.43 411.89 144.92 413.61 144.57 414.99 144.41 416.37 144.35 417.74 144.41 419.46 144.63 420.84 144.92 422.56 145.43 422.91 145.37 425.31 142.58 427.38 140.39 427.72 140.44 434.95 144.26 437.70 145.50 439.43 146.13 440.80 146.52 442.52 146.86 443.90 147.01 M278.70 137.25L280.08 137.33 281.80 137.28 283.17 137.12 284.89 136.79 286.27 136.43 287.99 135.88 292.81 134.08 298.32 136.81 301.07 137.94 302.45 138.36 303.82 138.63 305.20 138.75 306.23 138.72 307.95 138.45 310.02 137.81 312.43 136.69 315.53 134.91 315.87 134.85 323.10 139.01 325.16 140.08 326.88 140.85 328.60 141.48 330.32 141.96 332.05 142.25 333.77 142.35 335.49 142.25 337.21 141.96 338.93 141.48 340.65 140.85 342.37 140.08 344.44 139.01 351.66 134.85 352.01 134.91 354.07 136.13 355.79 137.04 357.86 137.94 359.24 138.37 360.27 138.59 361.30 138.72 362.33 138.75 363.37 138.68 364.74 138.44 365.77 138.17 367.15 137.69 369.56 136.65 374.72 134.08 379.20 135.76 381.61 136.53 382.98 136.87 384.36 137.12 386.77 137.33 388.14 137.31 389.18 137.22 390.55 137.00 391.93 136.68 393.31 136.27 394.68 135.76 397.78 134.35 398.13 134.36 399.50 135.30 401.22 136.61 402.94 138.08 405.01 140.04 405.35 140.27 408.45 138.85 411.20 137.89 412.58 137.55 413.96 137.31 415.33 137.17 416.37 137.14 417.40 137.17 418.78 137.31 420.15 137.55 421.53 137.89 424.28 138.85 427.38 140.27 427.72 140.04 429.79 138.08 431.51 136.61 433.23 135.30 434.61 134.36 434.95 134.35 437.70 135.62 440.11 136.49 442.18 137.00 443.90 137.25 M278.70 130.85L280.08 130.75 281.80 130.77 283.52 130.94 285.24 131.26 286.96 131.71 288.68 132.29 292.81 134.03 296.25 132.72 296.60 132.60 296.94 132.59 299.35 133.61 301.41 134.29 303.48 134.73 305.20 134.86 306.92 134.78 308.64 134.47 310.36 133.97 312.43 133.16 313.81 133.78 315.53 134.67 315.87 134.71 319.31 132.63 321.38 131.46 323.79 130.25 324.82 129.80 325.16 129.72 327.57 130.74 329.64 131.39 331.70 131.79 333.77 131.92 335.83 131.79 337.90 131.39 339.96 130.74 342.37 129.72 342.71 129.80 343.75 130.25 346.16 131.46 348.22 132.63 351.66 134.71 352.01 134.67 353.73 133.78 355.11 133.16 357.51 134.08 359.58 134.62 361.64 134.86 363.71 134.77 365.09 134.55 366.81 134.09 368.53 133.48 370.59 132.59 370.94 132.60 371.28 132.72 374.72 134.03 378.16 132.55 380.92 131.61 382.29 131.26 383.67 130.99 385.05 130.82 386.42 130.74 387.80 130.77 389.18 130.90 390.55 131.13 391.93 131.48 394.34 132.34 396.06 133.16 397.78 134.15 398.13 134.17 403.29 131.33 403.63 131.44 408.79 134.22 411.20 135.30 412.58 135.78 413.96 136.14 415.33 136.34 416.37 136.39 417.40 136.34 418.78 136.14 420.15 135.78 421.53 135.30 423.94 134.22 429.10 131.44 429.44 131.33 434.61 134.17 434.95 134.15 437.36 132.81 439.77 131.80 441.83 131.21 443.90 130.85 M278.70 127.41L279.73 127.51 281.11 127.54 282.49 127.46 283.86 127.27 285.24 127.58 287.30 128.24 289.37 129.04 291.78 130.11 296.60 132.43 296.94 132.49 299.01 131.88 301.07 131.45 303.14 131.23 304.86 131.22 306.58 131.38 308.64 131.80 310.36 132.32 312.43 133.13 314.49 132.19 321.03 128.83 322.06 128.34 322.41 128.29 324.47 129.38 325.16 129.66 327.23 128.90 328.95 128.42 330.67 128.08 332.39 127.89 334.80 127.87 337.21 128.14 339.62 128.69 342.37 129.66 343.06 129.38 345.12 128.29 345.47 128.34 346.50 128.83 353.04 132.19 355.11 133.13 357.17 132.32 358.89 131.80 360.96 131.38 362.68 131.22 364.40 131.23 366.12 131.40 368.18 131.80 370.59 132.49 370.94 132.43 375.75 130.11 378.51 128.90 381.26 127.89 382.98 127.40 383.67 127.27 385.39 127.49 387.11 127.54 389.18 127.36 391.59 126.89 392.96 127.12 395.37 127.74 397.78 128.60 400.19 129.66 403.29 131.25 403.63 131.14 407.07 129.35 408.45 128.77 410.52 129.50 412.58 130.05 414.65 130.39 416.37 130.48 418.09 130.39 420.15 130.05 422.22 129.50 424.28 128.77 425.66 129.35 429.10 131.14 429.44 131.25 431.85 130.00 434.26 128.88 436.33 128.08 438.39 127.45 439.77 127.12 441.15 126.89 443.90 127.41 M278.70 126.68L281.11 126.79 282.49 126.97 283.86 127.23 284.21 127.21 285.58 126.90 286.96 126.50 290.40 125.23 291.09 125.44 297.28 127.87 300.04 128.78 301.41 129.14 302.79 129.41 304.17 129.58 305.54 129.64 306.92 129.60 308.30 129.45 309.68 129.19 311.05 128.85 314.15 127.80 318.28 126.08 318.62 126.08 322.06 128.09 322.41 128.18 325.51 126.93 328.26 126.10 329.64 125.80 331.01 125.58 333.42 125.41 334.80 125.43 336.18 125.54 337.55 125.74 338.93 126.01 340.31 126.37 342.03 126.93 345.12 128.18 345.47 128.09 348.91 126.08 349.25 126.08 353.38 127.80 356.48 128.85 357.86 129.19 359.24 129.45 360.61 129.60 361.64 129.64 363.02 129.60 364.40 129.46 365.77 129.21 367.50 128.78 370.25 127.87 376.44 125.44 377.13 125.23 379.20 126.03 380.92 126.61 382.64 127.07 383.67 127.23 385.74 126.87 387.46 126.71 389.18 126.68 391.59 126.84 392.96 126.39 394.34 125.84 395.72 125.21 397.44 124.31 400.53 125.43 407.07 128.22 408.45 128.72 410.52 127.92 412.58 127.33 414.65 126.99 416.37 126.89 418.09 126.99 420.15 127.33 422.22 127.92 424.28 128.72 425.66 128.22 432.20 125.43 435.30 124.31 437.02 125.21 438.39 125.84 439.77 126.39 441.15 126.84 443.90 126.68 M278.70 122.79L281.45 122.91 284.21 123.33 287.30 124.12 290.40 125.18 290.75 125.08 295.56 123.02 295.91 122.94 298.66 123.80 301.07 124.40 303.14 124.76 305.20 124.93 307.27 124.90 309.33 124.68 311.40 124.28 314.15 123.56 318.28 125.88 318.62 125.94 321.72 124.65 324.13 123.75 326.19 123.10 328.26 122.59 329.98 123.05 331.36 123.33 332.73 123.49 333.77 123.53 334.80 123.49 336.18 123.33 337.55 123.05 339.27 122.59 341.34 123.10 343.40 123.75 345.81 124.65 348.91 125.94 349.25 125.88 353.38 123.56 356.14 124.28 358.20 124.68 360.27 124.90 362.33 124.93 364.40 124.76 366.46 124.40 368.87 123.80 371.62 122.94 371.97 123.02 376.79 125.08 377.13 125.18 379.88 124.23 382.64 123.48 385.05 123.04 387.46 122.81 389.87 122.82 392.27 123.06 394.68 123.52 397.44 124.30 401.91 121.66 407.07 123.49 410.17 124.42 412.92 125.01 414.30 125.18 415.68 125.27 417.05 125.27 418.78 125.15 420.15 124.95 421.87 124.59 425.31 123.60 430.82 121.66 435.30 124.30 437.70 123.60 439.77 123.17 441.83 122.89 443.90 122.79 M278.70 120.53L280.42 120.75 282.14 120.73 283.86 120.50 286.27 119.88 289.37 120.74 295.56 122.83 295.91 122.88 298.66 121.88 300.04 121.48 301.07 121.27 303.14 121.60 305.20 121.76 307.27 121.76 309.33 121.58 311.40 122.30 314.15 123.53 323.44 120.34 326.19 121.70 328.26 122.54 331.36 122.11 333.77 121.99 336.18 122.11 339.27 122.54 341.34 121.70 344.09 120.34 353.38 123.53 356.14 122.30 358.20 121.58 360.27 121.76 362.33 121.76 364.40 121.60 366.46 121.27 367.50 121.48 368.87 121.88 371.62 122.88 371.97 122.83 378.16 120.74 381.26 119.88 382.98 120.34 384.36 120.62 385.74 120.75 387.11 120.75 388.49 120.59 389.87 120.28 391.24 119.81 392.62 119.22 394.68 119.57 396.75 120.04 401.91 121.61 405.01 119.66 408.11 120.59 410.86 121.26 413.27 121.67 415.68 121.85 418.43 121.78 421.18 121.40 423.94 120.78 427.72 119.66 430.82 121.61 435.98 120.04 438.05 119.57 440.11 119.22 442.18 120.06 443.90 120.53 M278.70 118.95L280.42 118.99 282.14 119.14 283.86 119.39 286.27 119.83 287.99 119.16 290.06 118.19 290.40 118.22 297.63 120.44 300.73 121.20 301.07 121.24 302.45 121.02 303.48 120.91 305.20 120.89 307.27 121.11 309.33 121.58 311.40 121.24 313.81 120.68 316.21 119.99 320.34 118.69 320.69 118.63 323.44 120.29 326.54 119.49 328.95 119.00 331.36 118.70 333.77 118.60 336.18 118.70 338.58 119.00 340.99 119.49 344.09 120.29 346.84 118.63 347.19 118.69 351.32 119.99 353.73 120.68 356.14 121.24 358.20 121.58 360.27 121.11 362.33 120.89 364.05 120.91 365.09 121.02 366.46 121.24 366.81 121.20 369.90 120.44 377.13 118.22 377.48 118.19 379.54 119.16 381.26 119.83 384.36 119.28 387.11 118.99 389.52 118.96 392.62 119.18 394.00 118.40 395.72 117.22 396.06 117.07 399.50 117.95 405.01 119.65 408.45 117.69 409.83 117.03 411.20 116.47 412.58 116.03 413.96 115.71 415.33 115.53 416.37 115.49 417.40 115.53 418.78 115.71 420.15 116.03 421.53 116.47 422.91 117.03 424.28 117.69 427.72 119.65 433.23 117.95 436.67 117.07 437.02 117.22 438.74 118.40 440.11 119.18 442.18 119.01 443.90 118.95 M278.70 116.26L281.45 116.37 284.21 116.73 286.96 117.29 290.06 118.12 290.40 118.01 291.09 117.65 296.94 114.45 298.66 113.62 300.04 113.04 301.76 112.47 303.14 112.15 304.51 111.97 305.89 111.93 307.27 112.04 308.64 112.30 310.02 112.70 311.74 113.37 313.12 114.03 314.84 114.97 320.69 118.58 324.47 117.48 327.92 116.71 331.01 116.29 333.77 116.17 336.52 116.29 339.62 116.71 343.06 117.48 346.84 118.58 352.70 114.97 354.42 114.03 355.79 113.37 357.51 112.70 358.89 112.30 360.61 112.00 361.99 111.93 363.37 112.00 364.74 112.22 366.12 112.57 367.84 113.18 370.59 114.45 376.44 117.65 377.13 118.01 377.48 118.12 379.88 117.46 382.29 116.92 384.70 116.52 386.77 116.32 388.83 116.26 390.90 116.33 393.31 116.58 395.72 117.00 396.06 116.96 397.78 115.52 399.50 113.90 401.22 112.11 402.94 110.17 405.01 107.70 407.07 105.09 414.99 94.68 416.02 93.55 416.37 93.41 416.71 93.55 417.74 94.68 425.31 104.65 429.44 109.77 431.17 111.73 432.89 113.55 434.61 115.21 435.98 116.41 436.67 116.96 437.02 117.00 438.74 116.68 440.46 116.45 442.18 116.31 443.90 116.26 M278.70 69.56L280.42 69.26 282.49 69.08 284.21 69.07 286.27 69.20 288.34 69.47 290.40 69.86 297.28 71.52 300.04 72.06 301.76 72.29 303.14 72.38 304.51 72.38 305.89 72.29 307.27 72.10 308.64 71.82 310.02 71.45 311.74 70.88 314.49 69.79 321.72 66.63 323.79 65.84 325.85 65.16 327.92 64.62 329.98 64.22 332.05 64.00 333.77 63.94 335.49 64.00 337.55 64.22 339.62 64.62 341.68 65.16 343.75 65.84 345.81 66.63 353.04 69.79 355.79 70.88 357.51 71.45 358.89 71.82 360.27 72.10 361.64 72.29 363.02 72.38 364.40 72.38 365.77 72.29 367.50 72.06 370.25 71.52 377.13 69.86 379.20 69.47 380.92 69.24 382.64 69.09 384.36 69.06 386.08 69.15 387.80 69.37 389.52 69.72 391.24 70.22 392.96 70.86 394.34 71.48 395.72 72.19 397.44 73.22 399.16 74.39 400.88 75.70 403.63 78.08 406.73 81.14 410.52 85.37 415.33 91.23 416.02 91.92 416.37 92.06 416.71 91.92 417.40 91.23 422.22 85.37 425.66 81.50 428.76 78.40 431.51 75.98 433.23 74.64 434.61 73.67 436.33 72.58 437.70 71.82 439.08 71.16 440.80 70.46 442.18 70.00 443.90 69.56 M278.70 61.29L281.80 61.38 283.52 61.56 285.24 61.83 288.68 62.59 295.91 64.59 298.66 65.25 301.76 65.74 304.51 65.88 305.89 65.83 307.61 65.66 308.99 65.44 310.71 65.06 313.81 64.17 321.38 61.52 324.82 60.46 326.88 59.95 328.60 59.62 330.32 59.37 332.05 59.22 334.11 59.17 336.18 59.27 338.24 59.51 340.65 59.95 342.71 60.46 345.12 61.18 352.70 63.83 355.79 64.79 357.51 65.22 359.24 65.56 360.96 65.78 362.33 65.87 363.71 65.88 365.43 65.78 366.81 65.61 368.53 65.32 371.62 64.59 378.85 62.59 382.64 61.77 384.36 61.52 386.08 61.35 387.80 61.28 389.52 61.31 391.24 61.44 393.31 61.72 395.03 62.06 397.09 62.57 400.53 63.65 407.76 66.24 410.86 67.15 413.61 67.67 414.99 67.81 416.37 67.86 417.74 67.81 419.46 67.63 420.84 67.38 422.56 66.97 425.66 66.01 433.23 63.30 437.02 62.22 438.74 61.84 440.46 61.56 442.18 61.37 443.90 61.29 M278.70 53.93L281.80 54.01 285.24 54.37 288.68 54.96 295.91 56.53 299.01 57.12 302.10 57.51 305.20 57.64 308.30 57.48 311.40 57.05 314.84 56.31 322.06 54.44 325.16 53.73 328.60 53.14 332.05 52.83 333.77 52.79 335.83 52.85 337.90 53.02 339.96 53.29 344.09 54.11 352.35 56.23 355.45 56.92 358.89 57.44 361.99 57.63 365.09 57.53 368.53 57.12 371.62 56.53 378.85 54.96 382.64 54.32 386.08 53.99 389.52 53.95 392.96 54.21 396.75 54.83 400.19 55.61 407.07 57.38 410.52 58.11 413.61 58.52 416.37 58.64 419.46 58.49 422.91 57.98 426.00 57.30 433.57 55.36 437.36 54.57 440.80 54.10 443.90 53.93 M278.70 47.29L281.80 47.37 285.24 47.69 288.68 48.20 295.91 49.54 299.01 50.04 302.45 50.42 305.54 50.54 308.64 50.44 312.08 50.07 315.53 49.49 322.41 48.09 325.51 47.54 328.95 47.08 332.05 46.86 335.83 46.88 337.90 47.01 339.96 47.24 344.09 47.89 351.66 49.42 354.76 49.96 358.20 50.38 361.64 50.54 364.74 50.44 368.18 50.08 371.28 49.60 378.85 48.20 382.64 47.65 386.42 47.34 389.87 47.31 393.31 47.53 396.75 47.98 399.85 48.53 406.73 49.91 410.17 50.48 413.27 50.82 416.37 50.94 419.81 50.79 423.25 50.38 426.35 49.85 433.92 48.33 437.70 47.73 440.80 47.41 443.90 47.29 M278.70 42.85L281.80 42.94 284.89 43.20 288.68 43.70 296.25 44.98 299.35 45.43 302.79 45.77 306.23 45.88 309.33 45.77 312.43 45.48 315.87 44.98 325.51 43.36 328.95 42.96 332.05 42.77 335.83 42.78 339.62 43.06 343.75 43.62 351.32 44.92 354.42 45.39 357.86 45.75 361.30 45.88 364.74 45.77 368.18 45.43 371.28 44.98 378.85 43.70 382.98 43.16 386.42 42.90 389.87 42.86 393.31 43.05 396.75 43.43 399.85 43.90 406.73 45.09 410.17 45.59 413.27 45.87 416.37 45.98 419.81 45.85 423.25 45.50 426.35 45.04 433.92 43.73 437.70 43.22 440.80 42.95 443.90 42.85"/>
<clipPath id="c2"><rect x="511.40" y="27.50" width="164.70" height="224.30"/></clipPath>
<path clip-path="url(#c2)" fill="none" stroke="#0072BD" stroke-width="0.7" stroke-linejoin="round" d="M511.40 239.61L513.80 239.74 516.55 240.21 519.63 241.05 526.84 243.45 530.27 244.45 532.33 244.92 534.05 245.23 535.76 245.44 537.48 245.57 539.54 245.59 541.60 245.47 543.65 245.22 545.71 244.85 547.77 244.36 549.83 243.77 557.38 241.26 560.12 240.46 561.84 240.06 563.21 239.82 564.93 239.64 566.30 239.60 567.67 239.64 569.39 239.82 570.76 240.06 572.48 240.46 575.22 241.26 582.77 243.77 585.17 244.45 587.23 244.92 589.63 245.32 591.69 245.53 593.75 245.60 595.81 245.53 597.52 245.37 599.24 245.11 602.67 244.36 606.10 243.34 612.62 241.15 615.71 240.29 618.46 239.78 619.83 239.65 621.20 239.61 622.57 239.65 624.29 239.83 625.66 240.07 627.38 240.47 630.12 241.27 637.33 243.67 639.39 244.27 641.44 244.78 643.50 245.17 645.22 245.41 646.93 245.55 648.65 245.60 650.37 245.55 652.08 245.41 653.80 245.17 655.86 244.78 657.91 244.27 659.97 243.67 667.18 241.27 669.92 240.47 671.64 240.07 673.01 239.83 674.73 239.65 676.10 239.61 M511.40 239.14L513.80 239.29 515.17 239.49 516.55 239.78 519.63 240.67 526.84 243.21 530.27 244.24 532.33 244.74 534.05 245.05 535.76 245.28 537.48 245.41 539.54 245.43 541.60 245.31 543.65 245.05 545.71 244.66 547.77 244.15 549.83 243.54 557.38 240.89 560.47 239.94 562.18 239.54 563.55 239.31 564.93 239.16 566.30 239.11 567.67 239.16 569.04 239.31 571.79 239.85 574.53 240.66 581.40 243.09 584.49 244.06 587.92 244.87 589.63 245.15 591.35 245.34 593.75 245.44 595.81 245.37 597.87 245.16 600.27 244.74 602.33 244.24 604.73 243.54 612.28 240.90 615.37 239.96 617.08 239.56 618.46 239.33 619.83 239.19 621.20 239.14 622.57 239.20 623.94 239.34 625.32 239.58 627.03 239.98 630.12 240.93 637.33 243.46 639.39 244.08 641.44 244.60 643.50 245.01 645.22 245.26 646.93 245.40 648.65 245.45 650.37 245.40 652.08 245.26 653.80 245.01 655.86 244.60 657.91 244.08 659.97 243.46 667.18 240.93 670.27 239.98 671.98 239.58 673.36 239.34 674.73 239.20 676.10 239.14 M511.40 238.46L512.77 238.51 514.14 238.66 515.52 238.91 517.23 239.35 519.98 240.26 527.53 243.10 529.59 243.77 531.64 244.32 533.70 244.76 535.42 245.01 537.13 245.17 538.85 245.22 540.57 245.17 542.62 244.97 544.68 244.63 546.74 244.15 548.80 243.55 550.86 242.86 557.38 240.37 559.78 239.54 562.53 238.81 564.93 238.46 566.30 238.40 567.67 238.46 569.04 238.62 570.76 238.96 573.85 239.88 581.74 242.86 585.51 244.06 587.57 244.56 589.63 244.92 591.69 245.15 593.75 245.22 595.47 245.17 597.18 245.01 598.90 244.76 600.96 244.32 603.01 243.77 605.07 243.10 612.62 240.26 615.71 239.25 617.43 238.84 618.80 238.61 620.51 238.47 621.89 238.48 623.26 238.59 624.63 238.81 627.38 239.51 629.78 240.32 636.98 243.04 639.04 243.71 641.10 244.28 643.16 244.73 644.88 245.00 646.93 245.20 648.65 245.25 650.37 245.20 652.42 245.00 654.14 244.73 656.20 244.28 658.26 243.71 660.32 243.04 667.52 240.32 670.27 239.41 671.98 238.96 673.36 238.69 674.73 238.52 676.10 238.46 M511.40 237.75L512.77 237.80 514.14 237.98 515.52 238.26 516.89 238.64 519.63 239.61 527.18 242.67 529.24 243.39 531.30 244.00 533.36 244.47 535.08 244.76 537.13 244.97 538.85 245.03 540.57 244.97 542.62 244.76 544.68 244.40 546.74 243.90 548.80 243.28 550.86 242.54 557.72 239.74 560.12 238.84 562.53 238.15 563.90 237.89 564.93 237.76 566.30 237.70 567.67 237.76 569.04 237.95 570.42 238.24 571.79 238.62 573.51 239.21 581.40 242.41 585.17 243.71 587.57 244.33 589.63 244.71 591.69 244.95 593.75 245.03 595.47 244.97 597.18 244.81 598.90 244.54 600.96 244.09 603.01 243.50 605.42 242.67 612.97 239.61 615.71 238.64 617.43 238.18 618.80 237.92 620.51 237.76 621.89 237.77 622.92 237.86 624.29 238.08 625.66 238.40 627.03 238.81 629.44 239.69 636.64 242.61 638.70 243.34 640.76 243.96 642.82 244.46 644.88 244.81 646.93 245.02 648.65 245.07 650.37 245.02 652.42 244.81 654.14 244.53 656.20 244.05 658.26 243.45 660.66 242.61 667.87 239.69 670.61 238.70 671.98 238.31 673.36 238.01 674.73 237.82 676.10 237.75 M511.40 236.76L512.77 236.63 514.49 236.60 515.86 236.69 517.58 236.93 520.66 237.61 528.56 239.76 530.96 240.26 533.36 240.59 535.76 240.72 537.82 240.66 540.22 240.36 542.28 239.91 545.03 239.03 547.77 237.81 550.52 236.27 553.60 234.17 556.35 232.00 559.44 229.24 562.53 226.20 566.30 222.20 570.42 226.55 573.85 229.88 577.28 232.84 579.00 234.17 580.71 235.39 582.43 236.48 584.14 237.46 585.86 238.31 587.23 238.89 588.60 239.40 590.32 239.91 591.69 240.23 593.41 240.52 595.12 240.68 596.84 240.72 598.55 240.65 600.61 240.42 602.67 240.06 604.73 239.60 611.59 237.70 614.34 237.05 616.05 236.77 617.43 236.64 618.80 236.60 620.17 236.65 621.54 236.81 622.92 237.07 624.29 237.42 626.00 237.97 628.75 239.04 636.30 242.30 638.70 243.19 640.76 243.83 643.16 244.41 645.56 244.79 647.96 244.96 650.02 244.94 651.74 244.79 653.80 244.48 655.51 244.10 657.57 243.52 659.63 242.82 661.69 242.02 668.21 239.19 670.95 238.09 673.70 237.24 676.10 236.76 M511.40 211.36L512.77 211.28 514.49 210.95 515.86 210.51 517.58 209.77 518.95 209.06 520.66 208.06 526.15 204.52 528.56 203.06 530.62 201.95 532.67 201.05 534.73 200.38 536.79 199.99 538.85 199.91 539.88 199.98 540.91 200.14 541.94 200.38 543.31 200.83 544.34 201.25 545.71 201.94 546.74 202.55 548.11 203.47 549.49 204.51 550.86 205.66 553.26 207.90 556.01 210.72 566.30 222.19 576.25 211.09 579.00 208.24 581.40 205.96 583.80 203.97 586.20 202.34 587.57 201.58 588.60 201.10 590.66 200.38 592.72 199.98 593.75 199.91 595.12 199.93 597.18 200.22 598.21 200.47 599.58 200.92 601.64 201.79 604.04 203.06 606.45 204.52 611.94 208.06 613.65 209.06 615.02 209.77 616.74 210.51 618.11 210.95 619.83 211.28 621.20 211.36 622.57 211.26 624.29 210.90 625.66 210.45 627.38 209.69 628.75 208.96 630.46 207.94 638.01 203.05 640.07 201.89 641.79 201.06 643.50 200.39 645.22 199.89 646.93 199.58 648.65 199.48 650.37 199.58 652.08 199.89 653.80 200.39 655.51 201.06 657.23 201.89 659.29 203.05 666.84 207.94 668.55 208.96 669.92 209.69 671.64 210.45 673.01 210.90 674.73 211.26 676.10 211.36 M511.40 208.73L512.77 208.68 514.14 208.47 515.52 208.11 516.89 207.61 518.61 206.82 520.32 205.89 527.53 201.41 529.24 200.44 530.96 199.57 532.67 198.85 534.39 198.30 536.11 197.95 537.82 197.82 539.54 197.91 541.25 198.23 542.97 198.76 544.68 199.49 546.40 200.38 548.46 201.62 556.01 206.81 559.09 208.72 560.81 209.60 562.18 210.16 563.55 210.58 564.93 210.84 566.30 210.93 568.02 210.79 569.73 210.39 571.45 209.75 573.16 208.91 575.22 207.70 577.28 206.35 583.46 202.07 585.17 200.98 586.89 200.01 588.95 199.03 590.66 198.42 592.38 198.01 594.09 197.83 595.81 197.87 597.52 198.13 599.24 198.61 601.30 199.41 603.01 200.25 604.73 201.21 610.56 204.86 612.62 206.09 614.34 206.99 616.05 207.74 617.77 208.30 619.14 208.59 620.51 208.72 621.89 208.69 623.26 208.49 624.97 208.03 626.35 207.50 628.06 206.68 631.15 204.85 638.01 200.32 640.07 199.12 641.79 198.26 643.50 197.55 645.22 197.03 646.93 196.70 648.65 196.59 650.02 196.66 651.74 196.94 653.45 197.43 655.17 198.10 656.88 198.94 658.94 200.11 666.49 205.07 668.21 206.11 669.58 206.86 671.30 207.65 673.01 208.24 674.73 208.61 676.10 208.73 M511.40 205.12L512.77 205.10 514.14 204.92 515.52 204.60 517.23 204.00 518.95 203.22 520.66 202.30 528.21 197.61 529.93 196.64 531.30 195.95 533.02 195.24 534.73 194.71 536.45 194.39 537.82 194.30 539.54 194.40 541.25 194.73 542.97 195.28 544.68 196.03 546.40 196.95 548.46 198.22 555.66 203.28 558.75 205.23 560.47 206.13 561.84 206.71 563.55 207.24 564.93 207.50 566.64 207.57 568.36 207.39 570.07 206.95 571.79 206.29 573.51 205.42 575.56 204.19 577.62 202.81 583.46 198.68 585.17 197.57 586.89 196.57 588.95 195.56 590.66 194.93 592.38 194.50 594.09 194.31 595.81 194.35 597.52 194.62 599.24 195.12 600.96 195.80 602.67 196.64 604.39 197.61 610.22 201.27 612.28 202.49 613.99 203.39 615.71 204.13 617.43 204.69 618.80 204.98 620.51 205.13 621.89 205.07 623.26 204.85 624.97 204.37 626.69 203.68 628.41 202.81 631.49 200.89 638.70 195.91 640.41 194.86 642.13 193.95 643.85 193.20 645.56 192.66 647.28 192.34 648.65 192.26 650.02 192.34 651.74 192.66 653.11 193.08 654.83 193.78 656.54 194.67 658.60 195.91 666.15 201.12 667.87 202.21 669.24 202.99 670.95 203.84 672.67 204.49 674.38 204.92 676.10 205.12 M511.40 201.54L512.77 201.54 514.49 201.32 515.86 200.97 517.58 200.35 519.29 199.54 521.35 198.38 528.56 193.61 530.27 192.56 531.64 191.81 533.36 191.03 535.08 190.44 536.79 190.10 538.16 190.01 539.54 190.10 541.25 190.44 542.97 191.02 544.68 191.82 546.40 192.80 548.11 193.91 555.32 199.15 558.41 201.16 560.12 202.08 561.50 202.69 563.21 203.26 564.58 203.55 566.30 203.68 567.33 203.63 568.36 203.49 570.07 203.06 572.13 202.25 573.85 201.36 575.91 200.09 577.97 198.66 583.80 194.38 585.51 193.23 587.23 192.19 588.95 191.32 590.66 190.64 592.38 190.20 594.09 190.02 595.47 190.06 597.18 190.36 598.90 190.89 600.61 191.64 601.99 192.36 603.70 193.39 611.25 198.38 613.31 199.54 615.02 200.35 616.74 200.97 618.46 201.38 620.17 201.55 621.89 201.48 623.60 201.16 625.32 200.61 627.03 199.85 628.75 198.91 630.46 197.82 632.18 196.61 639.39 191.18 641.10 190.03 642.82 189.03 644.53 188.24 645.90 187.77 647.28 187.49 648.65 187.39 650.02 187.49 651.39 187.77 652.77 188.24 654.14 188.86 655.86 189.82 657.57 190.94 659.63 192.43 665.46 196.86 667.18 198.05 668.89 199.11 670.95 200.18 672.67 200.86 674.38 201.32 676.10 201.54 M511.40 199.07L513.12 199.14 514.83 198.93 516.55 198.45 518.26 197.74 519.98 196.82 522.04 195.51 524.10 194.04 529.24 190.19 530.96 189.01 532.33 188.17 534.05 187.28 535.42 186.74 537.13 186.32 538.51 186.21 539.88 186.30 541.25 186.59 542.62 187.06 544.34 187.88 546.06 188.92 547.77 190.10 554.98 195.65 558.06 197.76 559.78 198.74 561.50 199.53 563.21 200.11 564.58 200.39 566.30 200.52 567.33 200.48 568.36 200.34 569.39 200.11 570.42 199.79 572.48 198.92 574.53 197.76 576.59 196.40 578.65 194.87 584.49 190.35 586.20 189.14 587.57 188.28 589.29 187.36 590.66 186.80 592.38 186.35 593.75 186.21 595.12 186.27 596.84 186.63 598.21 187.13 599.93 187.97 601.30 188.79 603.01 189.94 608.85 194.29 610.91 195.74 612.97 197.02 614.68 197.90 616.74 198.68 618.46 199.05 620.17 199.15 621.89 198.95 622.92 198.69 623.94 198.33 624.97 197.88 626.35 197.12 627.38 196.45 628.75 195.43 630.12 194.29 631.49 193.05 633.90 190.65 636.30 188.05 639.04 184.92 646.93 175.67 648.31 174.13 648.65 173.88 648.99 174.13 650.37 175.67 658.26 184.92 661.35 188.43 664.09 191.36 666.49 193.68 667.87 194.88 669.24 195.96 670.61 196.90 671.64 197.52 673.01 198.19 674.04 198.59 675.07 198.88 676.10 199.07 M511.40 166.10L514.83 166.23 518.26 166.59 521.35 167.06 528.56 168.32 532.33 168.85 535.76 169.15 538.85 169.24 542.28 169.13 545.71 168.80 549.49 168.25 558.75 166.66 561.84 166.28 564.58 166.10 568.02 166.10 571.45 166.35 575.22 166.87 582.77 168.19 586.20 168.72 589.98 169.10 593.75 169.24 597.18 169.13 600.96 168.77 604.39 168.26 612.28 166.89 616.05 166.38 619.83 166.12 623.60 166.17 626.00 166.36 628.41 166.66 639.04 168.47 641.79 168.86 644.19 169.10 644.53 169.25 648.31 173.28 648.65 173.53 648.99 173.28 652.77 169.25 653.11 169.10 655.51 168.86 657.91 168.52 666.49 167.03 669.58 166.56 673.01 166.21 676.10 166.10 M511.40 164.39L514.83 164.51 518.26 164.90 521.35 165.41 528.56 166.78 532.33 167.35 535.76 167.68 538.85 167.77 542.28 167.64 545.71 167.29 549.49 166.68 556.35 165.33 559.09 164.84 561.84 164.48 564.58 164.27 568.02 164.27 571.45 164.56 575.22 165.13 582.77 166.61 586.20 167.19 589.98 167.62 593.75 167.77 597.52 167.63 601.30 167.22 604.73 166.65 612.28 165.22 615.71 164.71 619.14 164.43 622.23 164.42 624.97 164.60 628.06 165.00 630.81 165.47 638.36 166.96 642.82 167.64 643.16 167.86 644.19 168.90 644.53 169.13 648.65 169.29 652.77 169.13 653.11 168.90 654.14 167.86 654.48 167.64 658.94 166.96 667.52 165.28 669.92 164.89 671.98 164.63 674.04 164.46 676.10 164.39 M511.40 161.77L514.14 161.83 517.23 162.15 520.66 162.75 527.87 164.33 531.30 164.97 535.08 165.45 537.13 165.57 538.85 165.60 542.28 165.45 545.71 165.03 549.49 164.32 556.35 162.72 559.09 162.14 562.18 161.65 564.93 161.43 568.02 161.44 569.73 161.58 571.45 161.79 574.88 162.42 582.43 164.17 586.20 164.92 589.98 165.42 592.03 165.56 593.75 165.60 595.47 165.57 597.52 165.45 601.30 164.97 604.73 164.33 612.28 162.68 615.71 162.10 618.80 161.81 621.89 161.79 624.63 162.01 627.72 162.50 630.46 163.07 637.33 164.70 640.41 165.32 640.76 165.56 642.82 167.52 643.16 167.68 645.90 167.91 648.65 167.99 651.39 167.91 654.14 167.68 654.48 167.52 656.54 165.56 656.88 165.32 659.97 164.70 666.84 163.07 669.92 162.43 673.01 161.98 676.10 161.77 M511.40 158.77L514.14 158.80 515.52 158.92 517.23 159.17 520.32 159.82 527.87 161.84 531.30 162.62 533.36 162.97 535.08 163.18 537.13 163.33 538.85 163.37 540.57 163.32 542.28 163.20 544.00 162.99 546.06 162.64 549.83 161.77 556.69 159.81 559.44 159.09 562.18 158.55 564.93 158.26 566.30 158.22 568.02 158.28 569.39 158.41 571.10 158.67 574.53 159.44 582.08 161.59 585.86 162.50 587.92 162.88 589.63 163.12 591.69 163.31 593.41 163.37 595.12 163.35 597.18 163.21 599.24 162.97 601.30 162.62 604.73 161.84 612.28 159.82 615.71 159.11 617.43 158.88 618.80 158.78 621.54 158.79 624.29 159.08 627.03 159.62 629.78 160.33 636.98 162.42 637.33 162.61 638.01 163.17 640.41 165.25 640.76 165.38 642.82 165.70 644.88 165.93 646.93 166.07 648.65 166.10 650.37 166.07 652.42 165.93 654.48 165.70 656.54 165.38 656.88 165.25 659.29 163.17 659.97 162.61 660.32 162.42 667.52 160.33 670.27 159.62 673.36 159.03 676.10 158.77 M511.40 156.44L513.46 156.24 515.86 156.16 518.26 156.23 521.35 156.47 524.10 157.36 530.62 159.92 533.36 160.85 534.73 161.20 536.11 161.45 537.48 161.58 538.85 161.56 539.88 161.46 541.25 161.21 542.62 160.84 544.00 160.36 546.40 159.34 553.95 155.79 556.35 154.83 558.41 154.14 560.81 153.51 563.21 153.10 565.61 152.92 567.67 152.95 569.39 153.10 571.45 153.44 573.16 153.85 575.22 154.47 577.28 155.22 579.34 156.09 585.86 159.19 588.26 160.23 590.66 161.04 592.72 161.46 594.09 161.58 595.81 161.53 597.18 161.34 598.90 160.95 601.64 160.04 608.50 157.36 611.25 156.47 615.02 156.20 618.46 156.20 621.20 156.44 624.29 156.97 627.38 157.77 631.15 158.97 633.21 159.67 634.92 160.81 636.98 162.34 637.33 162.51 640.41 163.25 643.16 163.74 645.90 164.05 648.65 164.15 651.39 164.05 654.14 163.74 656.88 163.25 659.97 162.51 660.32 162.34 662.38 160.81 664.09 159.67 668.21 158.29 670.95 157.48 673.70 156.83 676.10 156.44 M511.40 155.31L513.80 155.22 516.20 155.37 518.61 155.76 521.69 156.50 527.53 157.08 531.30 157.28 533.36 157.88 535.42 158.30 537.48 158.49 539.19 158.45 541.60 158.12 544.34 157.37 547.09 156.37 554.29 153.44 556.69 152.60 558.75 152.00 561.15 151.46 563.21 151.15 565.61 150.99 567.67 151.01 569.39 151.15 571.45 151.46 573.16 151.82 575.22 152.38 579.00 153.70 585.17 156.23 587.57 157.14 589.98 157.88 592.03 158.30 593.41 158.45 594.44 158.50 596.50 158.39 598.90 157.97 601.30 157.28 605.07 157.08 610.91 156.50 613.99 155.76 616.74 155.34 618.80 155.22 620.86 155.28 622.57 155.47 623.94 155.73 625.32 156.06 626.69 156.49 628.06 157.00 629.78 157.76 631.49 158.65 633.21 159.66 636.30 160.66 638.70 161.35 641.44 162.01 643.85 162.43 646.25 162.69 648.65 162.78 651.05 162.69 653.45 162.43 656.20 161.94 658.94 161.26 664.09 159.66 665.81 158.65 667.52 157.76 669.24 157.00 670.61 156.49 671.98 156.06 673.36 155.73 674.73 155.47 676.10 155.31 M511.40 151.99L513.12 152.03 515.17 152.22 517.23 152.56 519.29 153.04 521.01 153.53 523.07 154.22 529.24 156.56 531.30 157.28 534.39 157.21 536.45 157.02 538.51 156.69 540.57 156.22 542.62 155.60 544.68 154.82 546.74 153.88 548.80 152.78 550.86 151.53 554.29 150.37 557.04 149.57 559.78 148.93 562.53 148.49 565.27 148.28 568.02 148.31 570.42 148.53 572.82 148.93 575.22 149.48 577.97 150.27 581.74 151.53 583.80 152.78 585.51 153.71 587.23 154.52 588.95 155.23 590.66 155.82 592.38 156.31 594.09 156.69 595.81 156.98 598.55 157.23 601.30 157.28 603.36 156.56 609.53 154.22 611.59 153.53 613.65 152.95 616.05 152.43 618.11 152.14 620.17 152.00 622.23 152.02 623.94 152.15 625.66 152.40 627.38 152.75 629.09 153.20 631.15 153.86 633.21 154.63 640.41 157.71 643.16 158.74 644.53 159.14 645.90 159.45 647.28 159.64 648.65 159.71 650.02 159.64 651.39 159.45 652.77 159.14 654.14 158.74 656.88 157.71 664.43 154.49 666.49 153.74 668.55 153.10 670.61 152.60 672.33 152.29 674.38 152.06 676.10 151.99 M511.40 148.89L513.12 148.93 515.17 149.09 517.23 149.39 519.29 149.80 523.07 150.79 530.62 153.13 533.70 153.88 535.42 154.16 536.79 154.29 538.16 154.34 539.54 154.31 541.94 154.04 544.34 153.55 547.09 152.77 550.86 151.51 552.23 150.62 553.95 149.38 557.38 146.64 560.12 146.09 562.87 145.73 565.61 145.57 568.02 145.60 571.45 145.93 573.51 146.27 575.22 146.64 578.65 149.38 580.37 150.62 581.74 151.51 585.17 152.66 587.57 153.37 589.63 153.86 591.69 154.19 593.41 154.33 595.12 154.33 596.84 154.20 598.55 153.94 600.27 153.58 601.99 153.13 609.88 150.69 613.65 149.72 615.71 149.33 617.77 149.06 619.83 148.91 621.54 148.90 623.26 148.98 624.97 149.15 626.69 149.41 628.41 149.76 630.46 150.28 632.52 150.89 639.73 153.32 642.47 154.14 644.19 154.54 645.56 154.78 647.28 154.97 648.65 155.01 650.02 154.97 651.74 154.78 653.11 154.54 654.83 154.14 657.57 153.32 664.78 150.89 666.84 150.28 668.89 149.76 670.95 149.35 672.67 149.11 674.38 148.95 676.10 148.89 M511.40 145.84L513.12 145.88 515.17 146.03 516.89 146.24 518.95 146.58 522.72 147.44 530.27 149.46 533.70 150.18 536.79 150.55 539.54 150.59 542.28 150.36 545.37 149.80 547.77 149.22 554.29 147.39 557.38 146.63 560.12 144.22 560.47 144.06 562.53 143.81 564.24 143.68 567.67 143.65 569.73 143.78 572.13 144.06 572.48 144.22 575.22 146.63 577.97 147.30 584.14 149.03 586.54 149.65 589.29 150.20 591.69 150.51 593.41 150.60 595.12 150.58 596.84 150.46 598.55 150.24 601.99 149.54 609.88 147.44 613.65 146.58 615.71 146.24 617.43 146.03 619.48 145.88 621.20 145.84 622.92 145.89 624.63 146.02 628.06 146.51 631.84 147.35 639.39 149.45 642.47 150.19 645.56 150.70 647.28 150.84 648.65 150.88 650.02 150.84 651.74 150.70 654.83 150.19 657.91 149.45 665.46 147.35 669.24 146.51 672.67 146.02 674.38 145.89 676.10 145.84 M511.40 143.70L513.12 143.73 515.17 143.88 518.95 144.40 522.38 145.10 530.62 147.10 534.39 147.79 536.45 148.01 538.16 148.09 539.88 148.07 541.94 147.93 544.00 147.66 546.40 147.22 555.66 144.97 558.06 144.46 560.12 144.11 560.47 143.91 560.81 143.59 565.96 138.61 566.30 138.38 566.64 138.61 571.79 143.59 572.13 143.91 572.48 144.11 576.59 144.89 584.14 146.75 586.89 147.36 589.63 147.81 592.38 148.06 595.47 148.05 597.18 147.91 598.90 147.69 602.33 147.03 609.88 145.18 613.65 144.40 617.43 143.88 619.48 143.73 621.20 143.70 622.92 143.74 624.97 143.88 628.75 144.41 632.52 145.20 640.07 147.07 643.85 147.79 645.56 148.00 647.28 148.13 650.37 148.11 653.11 147.84 655.86 147.36 658.60 146.75 665.12 145.12 668.89 144.35 672.67 143.85 676.10 143.70 M511.40 125.53L512.77 125.50 514.49 125.32 515.86 125.07 517.58 124.63 520.66 123.57 528.56 120.40 530.96 119.62 533.02 119.10 535.42 118.73 537.48 118.64 539.54 118.77 541.60 119.14 544.00 119.87 546.40 120.94 548.80 122.31 551.55 124.24 553.95 126.19 556.69 128.65 560.12 131.98 565.61 137.53 566.30 138.10 566.99 137.53 572.82 131.64 576.25 128.33 579.34 125.61 582.08 123.48 584.83 121.69 586.20 120.94 587.57 120.29 588.95 119.75 590.32 119.31 591.69 118.99 593.06 118.77 594.78 118.64 596.50 118.68 598.21 118.86 600.27 119.26 602.33 119.82 604.39 120.53 611.59 123.44 614.68 124.52 616.40 124.99 618.11 125.32 619.83 125.50 621.20 125.53 622.57 125.45 624.29 125.20 626.00 124.80 627.72 124.28 630.81 123.09 638.36 119.81 640.41 119.05 642.47 118.42 644.53 117.95 646.59 117.66 648.65 117.56 650.37 117.63 651.74 117.78 653.45 118.09 655.17 118.52 656.88 119.05 660.32 120.37 667.18 123.37 668.89 124.04 670.61 124.61 671.98 124.98 673.36 125.26 674.73 125.45 676.10 125.53 M511.40 119.67L512.77 119.70 514.49 119.60 516.20 119.37 517.92 119.02 521.01 118.15 528.56 115.61 530.27 115.13 531.99 114.74 533.70 114.45 535.08 114.31 536.79 114.25 538.16 114.30 539.88 114.49 541.60 114.82 543.31 115.29 545.37 116.00 548.80 117.48 556.69 121.33 558.75 122.20 560.47 122.80 562.18 123.28 563.90 123.60 565.61 123.76 567.33 123.74 568.70 123.60 570.07 123.36 571.45 123.01 573.16 122.45 574.88 121.78 576.59 121.02 583.46 117.64 586.54 116.27 588.26 115.62 589.63 115.19 591.35 114.75 592.72 114.49 594.44 114.30 596.50 114.25 598.21 114.37 600.27 114.67 601.99 115.04 604.04 115.61 611.59 118.15 614.68 119.02 616.40 119.37 618.11 119.60 619.83 119.70 621.20 119.67 622.57 119.56 624.29 119.28 626.00 118.88 627.72 118.37 630.81 117.22 638.01 114.18 640.07 113.42 641.79 112.87 643.50 112.42 645.22 112.10 646.93 111.89 648.65 111.83 650.37 111.89 652.08 112.10 653.80 112.42 655.51 112.87 657.23 113.42 659.29 114.18 666.49 117.22 669.58 118.37 671.30 118.88 673.01 119.28 674.73 119.56 676.10 119.67 M511.40 111.92L512.77 111.98 514.14 111.96 515.52 111.85 517.23 111.61 518.95 111.26 520.66 110.83 528.21 108.51 531.30 107.72 533.02 107.40 534.73 107.19 536.45 107.11 538.16 107.15 539.88 107.34 541.60 107.65 543.31 108.09 545.37 108.76 548.80 110.16 556.35 113.61 558.41 114.42 560.12 114.99 562.18 115.52 563.90 115.81 565.61 115.96 567.33 115.94 568.70 115.81 570.42 115.52 571.79 115.19 573.51 114.66 576.94 113.32 583.46 110.31 586.54 109.02 589.63 107.99 591.35 107.58 592.72 107.34 594.44 107.15 596.15 107.11 597.87 107.19 599.93 107.45 601.64 107.79 603.70 108.31 610.91 110.54 613.99 111.34 615.71 111.67 617.43 111.88 619.14 111.98 620.86 111.94 622.57 111.77 624.29 111.46 626.00 111.04 627.72 110.50 631.15 109.18 638.36 106.04 640.41 105.25 642.13 104.69 643.85 104.24 645.56 103.91 647.28 103.73 648.65 103.68 650.02 103.73 651.74 103.91 653.45 104.24 655.17 104.69 656.88 105.25 658.94 106.04 666.15 109.18 669.58 110.50 671.30 111.04 673.01 111.46 674.73 111.77 676.10 111.92 M511.40 104.09L512.77 104.18 514.49 104.17 516.20 104.02 517.92 103.75 519.63 103.37 521.35 102.89 528.90 100.38 531.99 99.52 533.70 99.19 535.42 98.97 537.13 98.89 538.51 98.94 539.88 99.08 541.60 99.38 543.31 99.82 545.03 100.37 548.46 101.76 556.01 105.23 558.06 106.05 560.12 106.74 562.18 107.25 563.90 107.53 565.96 107.68 567.67 107.63 569.39 107.44 571.10 107.10 572.82 106.63 574.53 106.05 577.62 104.79 584.83 101.46 586.89 100.62 588.60 100.02 590.32 99.54 592.03 99.18 593.75 98.96 595.47 98.89 596.84 98.94 598.21 99.08 599.58 99.31 601.30 99.69 604.04 100.49 610.91 102.79 612.62 103.28 614.34 103.68 616.05 103.98 617.43 104.13 619.14 104.19 620.51 104.15 622.23 103.96 623.94 103.63 625.66 103.18 627.72 102.47 631.15 101.00 639.04 97.10 640.76 96.36 642.47 95.72 644.19 95.20 645.56 94.90 647.28 94.67 648.65 94.61 650.02 94.67 651.74 94.90 653.11 95.20 654.83 95.72 656.54 96.36 658.26 97.10 665.81 100.83 669.24 102.34 670.95 102.96 672.67 103.47 674.38 103.85 676.10 104.09 M511.40 98.62L513.12 98.79 514.83 98.78 516.55 98.59 518.61 98.16 520.32 97.65 522.38 96.89 529.24 93.93 532.33 92.77 534.05 92.29 535.42 92.01 536.79 91.83 538.16 91.78 539.54 91.84 540.91 92.01 542.28 92.30 544.00 92.81 545.71 93.45 547.43 94.20 554.63 97.78 558.06 99.29 559.78 99.90 561.50 100.39 563.21 100.75 564.93 100.95 566.64 101.00 568.70 100.85 570.76 100.48 572.82 99.90 574.88 99.16 576.94 98.27 584.49 94.52 587.57 93.18 589.29 92.59 590.66 92.22 592.38 91.91 593.75 91.79 595.12 91.79 596.84 91.95 598.55 92.29 600.27 92.77 603.36 93.93 610.56 97.03 612.62 97.76 614.34 98.24 616.05 98.59 617.77 98.78 619.48 98.79 621.20 98.62 622.57 98.34 623.60 98.04 624.97 97.55 626.35 96.93 628.75 95.56 631.49 93.61 633.90 91.62 636.64 89.08 640.07 85.63 647.28 78.06 648.31 77.16 648.65 77.05 648.99 77.16 650.02 78.06 657.23 85.63 660.66 89.08 663.40 91.62 665.81 93.61 668.55 95.56 670.95 96.93 672.33 97.55 673.70 98.04 674.73 98.34 676.10 98.62 M511.40 58.08L513.12 57.85 515.17 57.70 516.89 57.69 518.95 57.80 521.01 58.01 523.07 58.32 529.93 59.64 532.67 60.07 535.76 60.32 538.51 60.25 541.25 59.88 544.34 59.13 547.09 58.26 554.29 55.75 556.35 55.12 558.41 54.58 560.47 54.15 562.53 53.84 564.58 53.66 566.30 53.61 568.02 53.66 570.07 53.84 572.13 54.15 574.19 54.58 576.25 55.12 578.31 55.75 585.51 58.26 588.26 59.13 591.35 59.88 594.09 60.25 596.84 60.32 599.93 60.07 602.67 59.64 609.53 58.32 613.31 57.82 615.02 57.71 616.74 57.69 618.46 57.75 620.17 57.93 621.89 58.21 623.60 58.60 625.32 59.11 626.69 59.61 628.06 60.18 629.78 60.99 631.49 61.92 633.21 62.96 635.95 64.86 639.04 67.29 642.82 70.65 647.62 75.32 648.31 75.87 648.65 75.97 648.99 75.87 649.68 75.32 654.48 70.65 657.91 67.58 661.00 65.11 663.75 63.18 666.84 61.35 668.55 60.49 669.92 59.88 671.30 59.35 673.01 58.79 674.38 58.43 676.10 58.08 M511.40 51.50L514.49 51.58 517.92 51.94 521.35 52.54 528.56 54.13 531.30 54.66 534.39 55.05 537.13 55.16 540.22 54.98 543.31 54.50 546.40 53.80 553.95 51.69 557.38 50.85 561.15 50.18 564.58 49.86 566.64 49.82 568.70 49.90 570.76 50.09 573.16 50.44 575.22 50.85 577.62 51.42 585.17 53.52 588.26 54.29 591.69 54.90 594.78 55.15 597.87 55.07 600.96 54.71 604.04 54.13 611.25 52.54 615.02 51.89 618.46 51.56 621.89 51.52 623.60 51.62 625.66 51.85 629.44 52.53 632.87 53.38 640.07 55.44 643.16 56.16 645.90 56.58 648.65 56.73 650.02 56.69 651.74 56.54 654.83 56.02 657.91 55.26 665.46 53.11 669.24 52.24 672.67 51.72 676.10 51.50 M511.40 45.66L514.49 45.72 517.92 46.00 521.35 46.47 528.56 47.72 531.64 48.19 534.73 48.50 537.82 48.60 540.91 48.47 544.00 48.13 547.43 47.55 554.63 46.06 557.72 45.49 561.15 45.03 564.58 44.78 568.36 44.79 570.42 44.93 572.48 45.14 576.59 45.79 584.83 47.48 587.92 48.03 591.35 48.45 594.44 48.60 597.52 48.52 600.96 48.19 604.04 47.72 611.25 46.47 615.02 45.97 618.46 45.70 621.89 45.67 625.32 45.88 629.09 46.37 632.52 46.99 639.39 48.40 642.82 48.97 645.90 49.30 648.65 49.40 651.74 49.28 655.17 48.87 658.26 48.33 665.81 46.79 669.58 46.16 673.01 45.79 676.10 45.66 M511.40 40.37L514.49 40.44 517.92 40.69 521.35 41.10 531.64 42.56 535.08 42.86 538.16 42.96 541.25 42.87 544.68 42.58 548.11 42.12 558.06 40.57 561.50 40.20 564.58 40.03 568.36 40.04 572.48 40.33 576.59 40.85 584.14 42.07 587.23 42.50 590.66 42.83 594.09 42.96 597.18 42.88 600.61 42.59 603.70 42.21 611.25 41.10 615.02 40.66 618.80 40.41 622.23 40.39 625.66 40.56 629.09 40.92 632.18 41.36 639.04 42.46 642.47 42.91 645.56 43.18 648.65 43.27 652.08 43.16 655.51 42.83 658.60 42.40 666.15 41.20 669.92 40.72 673.01 40.47 676.10 40.37 M511.40 36.84L514.49 36.91 517.58 37.12 521.35 37.52 528.90 38.53 531.99 38.89 535.42 39.16 538.85 39.25 541.94 39.17 545.03 38.93 548.46 38.54 558.06 37.25 561.50 36.93 564.58 36.78 568.36 36.79 572.13 37.01 576.25 37.45 586.89 38.86 590.32 39.15 593.75 39.25 597.18 39.16 600.61 38.89 603.70 38.53 611.25 37.52 615.37 37.09 618.80 36.88 622.23 36.85 625.66 37.00 629.09 37.30 639.04 38.63 642.47 39.02 645.56 39.25 648.65 39.33 652.08 39.23 655.51 38.95 658.60 38.58 666.15 37.54 669.92 37.13 673.01 36.92 676.10 36.84"/>
<text x="11.24" y="16.60" font-family="Liberation Sans" font-size="19.00" font-weight="bold" fill="#000">a</text>
<text x="239.75" y="17.60" font-family="Liberation Sans" font-size="19.00" font-weight="bold" fill="#000">b</text>
<text x="472.36" y="16.60" font-family="Liberation Sans" font-size="19.00" font-weight="bold" fill="#000">c</text>
<text x="81.79" y="16.90" font-family="Liberation Serif" font-size="13.60" font-style="italic" fill="#262626" stroke="#262626" stroke-width="0.35">J</text>
<line x1="92.50" y1="12.10" x2="92.50" y2="17.70" stroke="#262626" stroke-width="0.75"/>
<line x1="89.50" y1="17.70" x2="95.90" y2="17.70" stroke="#262626" stroke-width="0.75"/>
<line x1="102.90" y1="7.50" x2="97.80" y2="18.70" stroke="#262626" stroke-width="0.85"/>
<text x="103.98" y="17.30" font-family="Liberation Sans" font-size="12.40" fill="#262626" stroke="#262626" stroke-width="0.25">2</text>
<text x="111.12" y="17.30" font-family="Liberation Serif" font-size="14.80" font-style="italic" fill="#262626" stroke="#262626" stroke-width="0.25">π</text>
<line x1="123.40" y1="11.45" x2="132.90" y2="11.45" stroke="#262626" stroke-width="0.85"/>
<line x1="123.40" y1="14.35" x2="132.90" y2="14.35" stroke="#262626" stroke-width="0.85"/>
<path d="M138.99 17.30L140.13 17.30L140.13 8.28L139.21 8.28C138.95 9.24 137.95 9.87 136.80 10.06L136.80 10.94C137.69 10.81 138.58 10.43 138.99 9.93Z" fill="#262626" stroke="#262626" stroke-width="0.20"/>
<text x="145.84" y="17.30" font-family="Liberation Sans" font-size="12.90" fill="#262626" stroke="#262626" stroke-width="0.2">MHz</text>
<text x="316.39" y="16.90" font-family="Liberation Serif" font-size="13.60" font-style="italic" fill="#262626" stroke="#262626" stroke-width="0.35">J</text>
<line x1="327.10" y1="12.10" x2="327.10" y2="17.70" stroke="#262626" stroke-width="0.75"/>
<line x1="324.10" y1="17.70" x2="330.50" y2="17.70" stroke="#262626" stroke-width="0.75"/>
<line x1="337.50" y1="7.50" x2="332.40" y2="18.70" stroke="#262626" stroke-width="0.85"/>
<text x="338.58" y="17.30" font-family="Liberation Sans" font-size="12.40" fill="#262626" stroke="#262626" stroke-width="0.25">2</text>
<text x="345.72" y="17.30" font-family="Liberation Serif" font-size="14.80" font-style="italic" fill="#262626" stroke="#262626" stroke-width="0.25">π</text>
<line x1="358.00" y1="11.45" x2="367.50" y2="11.45" stroke="#262626" stroke-width="0.85"/>
<line x1="358.00" y1="14.35" x2="367.50" y2="14.35" stroke="#262626" stroke-width="0.85"/>
<text x="370.75" y="17.30" font-family="Liberation Sans" font-size="12.60" fill="#262626" stroke="#262626" stroke-width="0.20">7</text>
<text x="380.44" y="17.30" font-family="Liberation Sans" font-size="12.90" fill="#262626" stroke="#262626" stroke-width="0.2">MHz</text>
<text x="545.29" y="16.90" font-family="Liberation Serif" font-size="13.60" font-style="italic" fill="#262626" stroke="#262626" stroke-width="0.35">J</text>
<line x1="556.00" y1="12.10" x2="556.00" y2="17.70" stroke="#262626" stroke-width="0.75"/>
<line x1="553.00" y1="17.70" x2="559.40" y2="17.70" stroke="#262626" stroke-width="0.75"/>
<line x1="566.40" y1="7.50" x2="561.30" y2="18.70" stroke="#262626" stroke-width="0.85"/>
<text x="567.48" y="17.30" font-family="Liberation Sans" font-size="12.40" fill="#262626" stroke="#262626" stroke-width="0.25">2</text>
<text x="574.62" y="17.30" font-family="Liberation Serif" font-size="14.80" font-style="italic" fill="#262626" stroke="#262626" stroke-width="0.25">π</text>
<line x1="586.90" y1="11.45" x2="596.40" y2="11.45" stroke="#262626" stroke-width="0.85"/>
<line x1="586.90" y1="14.35" x2="596.40" y2="14.35" stroke="#262626" stroke-width="0.85"/>
<path d="M602.49 17.30L603.63 17.30L603.63 8.28L602.71 8.28C602.45 9.24 601.45 9.87 600.30 10.06L600.30 10.94C601.19 10.81 602.08 10.43 602.49 9.93Z" fill="#262626" stroke="#262626" stroke-width="0.20"/>
<text x="605.93" y="17.30" font-family="Liberation Sans" font-size="12.60" fill="#262626" stroke="#262626" stroke-width="0.20">5</text>
<text x="616.04" y="17.30" font-family="Liberation Sans" font-size="12.90" fill="#262626" stroke="#262626" stroke-width="0.2">MHz</text>
<text x="22.35" y="41.85" font-family="Liberation Sans" font-size="15.00" fill="#262626">25</text>
<text x="31.04" y="156.15" font-family="Liberation Sans" font-size="15.00" fill="#262626">0</text>
<text x="16.04" y="247.05" font-family="Liberation Sans" font-size="15.00" fill="#262626">−20</text>
<text x="255.30" y="48.15" font-family="Liberation Sans" font-size="15.00" fill="#262626">30</text>
<text x="264.24" y="161.45" font-family="Liberation Sans" font-size="15.00" fill="#262626">0</text>
<text x="249.24" y="237.65" font-family="Liberation Sans" font-size="15.00" fill="#262626">−20</text>
<text x="488.30" y="36.25" font-family="Liberation Sans" font-size="15.00" fill="#262626">40</text>
<text x="496.64" y="157.45" font-family="Liberation Sans" font-size="15.00" fill="#262626">0</text>
<text x="481.54" y="248.75" font-family="Liberation Sans" font-size="15.00" fill="#262626">−30</text>
<text x="40.79" y="269.30" font-family="Liberation Sans" font-size="15.50" fill="#262626">0</text>
<text x="76.11" y="269.00" font-family="Liberation Serif" font-size="17.00" font-style="italic" fill="#262626" stroke="#262626" stroke-width="0.3">π</text>
<text x="85.10" y="269.30" font-family="Liberation Sans" font-size="15.50" fill="#262626">/2</text>
<text x="123.61" y="269.00" font-family="Liberation Serif" font-size="17.00" font-style="italic" fill="#262626" stroke="#262626" stroke-width="0.3">π</text>
<text x="157.21" y="269.30" font-family="Liberation Sans" font-size="15.50" fill="#262626">3</text>
<text x="164.31" y="269.00" font-family="Liberation Serif" font-size="17.00" font-style="italic" fill="#262626" stroke="#262626" stroke-width="0.3">π</text>
<text x="173.40" y="269.30" font-family="Liberation Sans" font-size="15.50" fill="#262626">/2</text>
<text x="199.82" y="269.30" font-family="Liberation Sans" font-size="15.50" fill="#262626">2</text>
<text x="207.51" y="269.00" font-family="Liberation Serif" font-size="17.00" font-style="italic" fill="#262626" stroke="#262626" stroke-width="0.3">π</text>
<g fill="none" stroke="#262626"><ellipse cx="127.00" cy="284.1" rx="5.5" ry="3.55" transform="rotate(-38 127.00 284.1)" stroke-width="1.15"/><line x1="131.10" y1="275.0" x2="123.30" y2="292.6" stroke-width="1.0"/></g>
<text x="274.79" y="269.30" font-family="Liberation Sans" font-size="15.50" fill="#262626">0</text>
<text x="310.11" y="269.00" font-family="Liberation Serif" font-size="17.00" font-style="italic" fill="#262626" stroke="#262626" stroke-width="0.3">π</text>
<text x="319.10" y="269.30" font-family="Liberation Sans" font-size="15.50" fill="#262626">/2</text>
<text x="357.61" y="269.00" font-family="Liberation Serif" font-size="17.00" font-style="italic" fill="#262626" stroke="#262626" stroke-width="0.3">π</text>
<text x="391.21" y="269.30" font-family="Liberation Sans" font-size="15.50" fill="#262626">3</text>
<text x="398.31" y="269.00" font-family="Liberation Serif" font-size="17.00" font-style="italic" fill="#262626" stroke="#262626" stroke-width="0.3">π</text>
<text x="407.40" y="269.30" font-family="Liberation Sans" font-size="15.50" fill="#262626">/2</text>
<text x="433.82" y="269.30" font-family="Liberation Sans" font-size="15.50" fill="#262626">2</text>
<text x="441.51" y="269.00" font-family="Liberation Serif" font-size="17.00" font-style="italic" fill="#262626" stroke="#262626" stroke-width="0.3">π</text>
<g fill="none" stroke="#262626"><ellipse cx="361.00" cy="284.1" rx="5.5" ry="3.55" transform="rotate(-38 361.00 284.1)" stroke-width="1.15"/><line x1="365.10" y1="275.0" x2="357.30" y2="292.6" stroke-width="1.0"/></g>
<text x="507.49" y="269.30" font-family="Liberation Sans" font-size="15.50" fill="#262626">0</text>
<text x="542.81" y="269.00" font-family="Liberation Serif" font-size="17.00" font-style="italic" fill="#262626" stroke="#262626" stroke-width="0.3">π</text>
<text x="551.80" y="269.30" font-family="Liberation Sans" font-size="15.50" fill="#262626">/2</text>
<text x="590.31" y="269.00" font-family="Liberation Serif" font-size="17.00" font-style="italic" fill="#262626" stroke="#262626" stroke-width="0.3">π</text>
<text x="623.91" y="269.30" font-family="Liberation Sans" font-size="15.50" fill="#262626">3</text>
<text x="631.01" y="269.00" font-family="Liberation Serif" font-size="17.00" font-style="italic" fill="#262626" stroke="#262626" stroke-width="0.3">π</text>
<text x="640.10" y="269.30" font-family="Liberation Sans" font-size="15.50" fill="#262626">/2</text>
<text x="666.52" y="269.30" font-family="Liberation Sans" font-size="15.50" fill="#262626">2</text>
<text x="674.21" y="269.00" font-family="Liberation Serif" font-size="17.00" font-style="italic" fill="#262626" stroke="#262626" stroke-width="0.3">π</text>
<g fill="none" stroke="#262626"><ellipse cx="593.70" cy="284.1" rx="5.5" ry="3.55" transform="rotate(-38 593.70 284.1)" stroke-width="1.15"/><line x1="597.80" y1="275.0" x2="590.00" y2="292.6" stroke-width="1.0"/></g>
<text transform="translate(20.40 146.50) rotate(-90)" text-anchor="middle" font-family="Liberation Sans" font-size="15" fill="#262626"><tspan font-family="Liberation Serif" font-style="italic">E</tspan>/2<tspan font-family="Liberation Serif" font-style="italic" font-size="16.5">π</tspan> (MHz)</text>
<text transform="translate(249.50 147.30) rotate(-90)" text-anchor="middle" font-family="Liberation Sans" font-size="15" fill="#262626"><tspan font-family="Liberation Serif" font-style="italic">E</tspan>/2<tspan font-family="Liberation Serif" font-style="italic" font-size="16.5">π</tspan> (MHz)</text>
<text transform="translate(484.40 144.80) rotate(-90)" text-anchor="middle" font-family="Liberation Sans" font-size="15" fill="#262626"><tspan font-family="Liberation Serif" font-style="italic">E</tspan>/2<tspan font-family="Liberation Serif" font-style="italic" font-size="16.5">π</tspan> (MHz)</text>
<text x="85.55" y="116.10" font-family="Liberation Serif" font-size="15.00" font-style="italic" fill="#262626" stroke="#262626" stroke-width="0.2">σ</text>
<line x1="97.00" y1="111.25" x2="106.00" y2="111.25" stroke="#262626" stroke-width="0.90"/>
<line x1="97.00" y1="114.35" x2="106.00" y2="114.35" stroke="#262626" stroke-width="0.90"/>
<text x="110.00" y="116.10" font-family="Liberation Sans" font-size="14.00" fill="#262626">2</text>
<text x="131.35" y="199.00" font-family="Liberation Serif" font-size="15.00" font-style="italic" fill="#262626" stroke="#262626" stroke-width="0.2">σ</text>
<line x1="141.80" y1="194.15" x2="151.30" y2="194.15" stroke="#262626" stroke-width="0.90"/>
<line x1="141.80" y1="197.25" x2="151.30" y2="197.25" stroke="#262626" stroke-width="0.90"/>
<line x1="154.80" y1="195.70" x2="161.80" y2="195.70" stroke="#262626" stroke-width="0.90"/>
<text x="162.00" y="199.00" font-family="Liberation Sans" font-size="14.00" fill="#262626">2</text>
<text x="326.35" y="94.50" font-family="Liberation Serif" font-size="15.00" font-style="italic" fill="#262626" stroke="#262626" stroke-width="0.2">σ</text>
<line x1="337.50" y1="89.65" x2="346.50" y2="89.65" stroke="#262626" stroke-width="0.90"/>
<line x1="337.50" y1="92.75" x2="346.50" y2="92.75" stroke="#262626" stroke-width="0.90"/>
<path d="M352.94 94.50L354.20 94.50L354.20 84.48L353.17 84.48C352.89 85.54 351.77 86.24 350.50 86.45L350.50 87.43C351.49 87.29 352.47 86.87 352.94 86.31Z" fill="#262626"/>
<text x="365.55" y="166.60" font-family="Liberation Serif" font-size="15.00" font-style="italic" fill="#262626" stroke="#262626" stroke-width="0.2">σ</text>
<line x1="376.80" y1="161.75" x2="385.80" y2="161.75" stroke="#262626" stroke-width="0.90"/>
<line x1="376.80" y1="164.85" x2="385.80" y2="164.85" stroke="#262626" stroke-width="0.90"/>
<text x="389.95" y="166.60" font-family="Liberation Sans" font-size="14.00" fill="#262626">0</text>
<text x="370.95" y="224.00" font-family="Liberation Serif" font-size="15.00" font-style="italic" fill="#262626" stroke="#262626" stroke-width="0.2">σ</text>
<line x1="382.00" y1="219.15" x2="391.20" y2="219.15" stroke="#262626" stroke-width="0.90"/>
<line x1="382.00" y1="222.25" x2="391.20" y2="222.25" stroke="#262626" stroke-width="0.90"/>
<line x1="395.50" y1="220.70" x2="402.90" y2="220.70" stroke="#262626" stroke-width="0.90"/>
<path d="M406.64 224.00L407.90 224.00L407.90 213.98L406.87 213.98C406.59 215.04 405.47 215.74 404.20 215.95L404.20 216.93C405.19 216.79 406.17 216.37 406.64 215.81Z" fill="#262626"/>
<text x="548.35" y="83.40" font-family="Liberation Serif" font-size="15.00" font-style="italic" fill="#262626" stroke="#262626" stroke-width="0.2">σ</text>
<line x1="559.30" y1="78.55" x2="568.50" y2="78.55" stroke="#262626" stroke-width="0.90"/>
<line x1="559.30" y1="81.65" x2="568.50" y2="81.65" stroke="#262626" stroke-width="0.90"/>
<path d="M576.14 83.40L577.40 83.40L577.40 73.38L576.37 73.38C576.09 74.44 574.97 75.14 573.70 75.35L573.70 76.33C574.69 76.19 575.67 75.77 576.14 75.21Z" fill="#262626"/>
<text x="617.25" y="139.00" font-family="Liberation Serif" font-size="15.00" font-style="italic" fill="#262626" stroke="#262626" stroke-width="0.2">σ</text>
<line x1="628.20" y1="134.15" x2="637.40" y2="134.15" stroke="#262626" stroke-width="0.90"/>
<line x1="628.20" y1="137.25" x2="637.40" y2="137.25" stroke="#262626" stroke-width="0.90"/>
<line x1="639.20" y1="135.70" x2="646.20" y2="135.70" stroke="#262626" stroke-width="0.90"/>
<path d="M650.74 139.00L652.00 139.00L652.00 128.98L650.97 128.98C650.69 130.04 649.57 130.74 648.30 130.95L648.30 131.93C649.29 131.79 650.27 131.37 650.74 130.81Z" fill="#262626"/>
<text x="550.45" y="184.40" font-family="Liberation Serif" font-size="15.00" font-style="italic" fill="#262626" stroke="#262626" stroke-width="0.2">σ</text>
<line x1="561.60" y1="179.55" x2="570.80" y2="179.55" stroke="#262626" stroke-width="0.90"/>
<line x1="561.60" y1="182.65" x2="570.80" y2="182.65" stroke="#262626" stroke-width="0.90"/>
<path d="M578.74 184.40L580.00 184.40L580.00 174.38L578.97 174.38C578.69 175.44 577.57 176.14 576.30 176.35L576.30 177.33C577.29 177.19 578.27 176.77 578.74 176.21Z" fill="#262626"/>
<text x="612.45" y="227.00" font-family="Liberation Serif" font-size="15.00" font-style="italic" fill="#262626" stroke="#262626" stroke-width="0.2">σ</text>
<line x1="623.50" y1="222.15" x2="632.70" y2="222.15" stroke="#262626" stroke-width="0.90"/>
<line x1="623.50" y1="225.25" x2="632.70" y2="225.25" stroke="#262626" stroke-width="0.90"/>
<line x1="636.00" y1="223.70" x2="643.00" y2="223.70" stroke="#262626" stroke-width="0.90"/>
<path d="M648.64 227.00L649.90 227.00L649.90 216.98L648.87 216.98C648.59 218.04 647.47 218.74 646.20 218.95L646.20 219.93C647.19 219.79 648.17 219.37 648.64 218.81Z" fill="#262626"/>
</svg></body></html>
